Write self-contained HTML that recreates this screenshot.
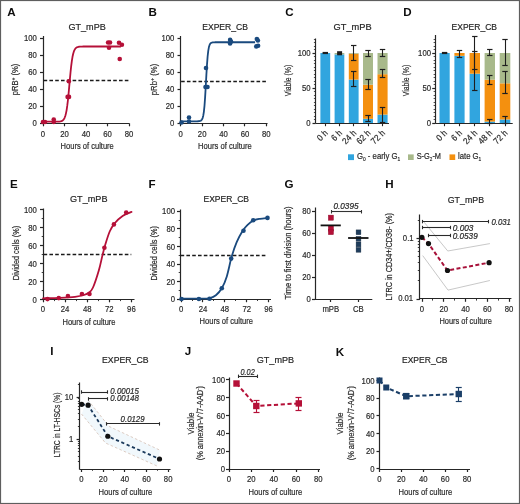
<!DOCTYPE html><html><head><meta charset="utf-8"><style>html,body{margin:0;padding:0;background:#fff;width:520px;height:504px;overflow:hidden}svg{display:block;will-change:transform}text{font-family:"Liberation Sans",sans-serif}</style></head><body><svg width="520" height="504" viewBox="0 0 520 504" font-family="Liberation Sans, sans-serif">
<rect x="0" y="0" width="520" height="504" fill="#fff"/>
<text x="7.20" y="16.30" font-size="11.6" text-anchor="start" font-weight="bold" fill="#0d0d0d">A</text>
<text x="87.10" y="30.40" font-size="9.8" text-anchor="middle" fill="#262626" stroke="#262626" stroke-width="0.2" textLength="37.30" lengthAdjust="spacingAndGlyphs">GT_mPB</text>
<line x1="43.50" y1="36.00" x2="43.50" y2="123.60" stroke="#262626" stroke-width="1.2" stroke-linecap="butt"/>
<line x1="40.00" y1="123.50" x2="43.00" y2="123.50" stroke="#262626" stroke-width="1.2" stroke-linecap="butt"/>
<line x1="40.00" y1="106.50" x2="43.00" y2="106.50" stroke="#262626" stroke-width="1.2" stroke-linecap="butt"/>
<line x1="40.00" y1="89.50" x2="43.00" y2="89.50" stroke="#262626" stroke-width="1.2" stroke-linecap="butt"/>
<line x1="40.00" y1="72.50" x2="43.00" y2="72.50" stroke="#262626" stroke-width="1.2" stroke-linecap="butt"/>
<line x1="40.00" y1="55.50" x2="43.00" y2="55.50" stroke="#262626" stroke-width="1.2" stroke-linecap="butt"/>
<line x1="40.00" y1="38.50" x2="43.00" y2="38.50" stroke="#262626" stroke-width="1.2" stroke-linecap="butt"/>
<text x="36.80" y="126.20" font-size="9.0" text-anchor="end" fill="#2a2a2a" stroke="#2a2a2a" stroke-width="0.2" textLength="4.30" lengthAdjust="spacingAndGlyphs">0</text>
<text x="36.80" y="109.20" font-size="9.0" text-anchor="end" fill="#2a2a2a" stroke="#2a2a2a" stroke-width="0.2" textLength="8.61" lengthAdjust="spacingAndGlyphs">20</text>
<text x="36.80" y="92.20" font-size="9.0" text-anchor="end" fill="#2a2a2a" stroke="#2a2a2a" stroke-width="0.2" textLength="8.61" lengthAdjust="spacingAndGlyphs">40</text>
<text x="36.80" y="75.20" font-size="9.0" text-anchor="end" fill="#2a2a2a" stroke="#2a2a2a" stroke-width="0.2" textLength="8.61" lengthAdjust="spacingAndGlyphs">60</text>
<text x="36.80" y="58.20" font-size="9.0" text-anchor="end" fill="#2a2a2a" stroke="#2a2a2a" stroke-width="0.2" textLength="8.61" lengthAdjust="spacingAndGlyphs">80</text>
<text x="36.80" y="41.20" font-size="9.0" text-anchor="end" fill="#2a2a2a" stroke="#2a2a2a" stroke-width="0.2" textLength="12.91" lengthAdjust="spacingAndGlyphs">100</text>
<line x1="43.00" y1="123.50" x2="129.30" y2="123.50" stroke="#262626" stroke-width="1.2" stroke-linecap="butt"/>
<line x1="43.50" y1="123.30" x2="43.50" y2="126.30" stroke="#262626" stroke-width="1.2" stroke-linecap="butt"/>
<line x1="64.50" y1="123.30" x2="64.50" y2="126.30" stroke="#262626" stroke-width="1.2" stroke-linecap="butt"/>
<line x1="86.50" y1="123.30" x2="86.50" y2="126.30" stroke="#262626" stroke-width="1.2" stroke-linecap="butt"/>
<line x1="107.50" y1="123.30" x2="107.50" y2="126.30" stroke="#262626" stroke-width="1.2" stroke-linecap="butt"/>
<line x1="129.50" y1="123.30" x2="129.50" y2="126.30" stroke="#262626" stroke-width="1.2" stroke-linecap="butt"/>
<text x="43.00" y="136.90" font-size="9.0" text-anchor="middle" fill="#2a2a2a" stroke="#2a2a2a" stroke-width="0.2" textLength="4.30" lengthAdjust="spacingAndGlyphs">0</text>
<text x="64.50" y="136.90" font-size="9.0" text-anchor="middle" fill="#2a2a2a" stroke="#2a2a2a" stroke-width="0.2" textLength="8.61" lengthAdjust="spacingAndGlyphs">20</text>
<text x="86.00" y="136.90" font-size="9.0" text-anchor="middle" fill="#2a2a2a" stroke="#2a2a2a" stroke-width="0.2" textLength="8.61" lengthAdjust="spacingAndGlyphs">40</text>
<text x="107.50" y="136.90" font-size="9.0" text-anchor="middle" fill="#2a2a2a" stroke="#2a2a2a" stroke-width="0.2" textLength="8.61" lengthAdjust="spacingAndGlyphs">60</text>
<text x="129.00" y="136.90" font-size="9.0" text-anchor="middle" fill="#2a2a2a" stroke="#2a2a2a" stroke-width="0.2" textLength="8.61" lengthAdjust="spacingAndGlyphs">80</text>
<text x="87.20" y="149.20" font-size="9.4" text-anchor="middle" fill="#2a2a2a" stroke="#2a2a2a" stroke-width="0.2" textLength="53.20" lengthAdjust="spacingAndGlyphs">Hours of culture</text>
<text x="17.60" y="79.50" font-size="8.8" text-anchor="middle" fill="#2a2a2a" stroke="#2a2a2a" stroke-width="0.2" textLength="31.50" lengthAdjust="spacingAndGlyphs" transform="rotate(-90 17.60 79.50)">pRB<tspan font-size="6" dy="-3">+</tspan><tspan dy="3"> (%)</tspan></text>
<line x1="43.60" y1="80.50" x2="129.00" y2="80.50" stroke="#1a1a1a" stroke-width="1.3" stroke-linecap="butt" stroke-dasharray="3.6,2.2"/>
<polyline points="43.00,121.72 43.65,121.72 44.31,121.72 44.96,121.72 45.62,121.72 46.27,121.72 46.93,121.72 47.58,121.72 48.24,121.72 48.89,121.72 49.55,121.72 50.20,121.72 50.86,121.72 51.51,121.72 52.17,121.72 52.82,121.72 53.48,121.72 54.13,121.72 54.79,121.71 55.44,121.71 56.10,121.70 56.75,121.69 57.41,121.67 58.06,121.64 58.72,121.60 59.37,121.55 60.03,121.46 60.68,121.34 61.34,121.15 61.99,120.88 62.65,120.47 63.30,119.89 63.96,119.03 64.61,117.80 65.27,116.05 65.92,113.62 66.58,110.31 67.23,105.96 67.89,100.51 68.54,94.06 69.20,86.90 69.85,79.54 70.51,72.51 71.16,66.28 71.82,61.10 72.47,57.02 73.13,53.94 73.78,51.69 74.44,50.08 75.09,48.96 75.75,48.18 76.40,47.64 77.06,47.27 77.71,47.02 78.37,46.85 79.02,46.74 79.68,46.66 80.33,46.61 80.99,46.57 81.64,46.55 82.30,46.53 82.95,46.52 83.61,46.52 84.26,46.51 84.92,46.51 85.57,46.50 86.23,46.50 86.88,46.50 87.54,46.50 88.19,46.50 88.85,46.50 89.50,46.50 90.16,46.50 90.81,46.50 91.47,46.50 92.12,46.50 92.78,46.50 93.43,46.50 94.09,46.50 94.74,46.50 95.39,46.50 96.05,46.50 96.70,46.50 97.36,46.50 98.01,46.50 98.67,46.50 99.32,46.50 99.98,46.50 100.63,46.50 101.29,46.50 101.94,46.50 102.60,46.50 103.25,46.50 103.91,46.50 104.56,46.50 105.22,46.50 105.87,46.50 106.53,46.50 107.18,46.50 107.84,46.50 108.49,46.50 109.15,46.50 109.80,46.50 110.46,46.50 111.11,46.50 111.77,46.50 112.42,46.50 113.08,46.50 113.73,46.50 114.39,46.50 115.04,46.50 115.70,46.50 116.35,46.50 117.01,46.50 117.66,46.50 118.32,46.50 118.97,46.50 119.63,46.50 120.28,46.50 120.94,46.50" fill="none" stroke="#b51038" stroke-width="1.8" stroke-linejoin="round"/>
<circle cx="43.00" cy="122.00" r="2.3" fill="#b51038"/>
<circle cx="45.00" cy="122.00" r="2.3" fill="#b51038"/>
<circle cx="53.75" cy="119.50" r="2.3" fill="#b51038"/>
<circle cx="53.75" cy="122.00" r="2.3" fill="#b51038"/>
<circle cx="67.60" cy="96.90" r="2.3" fill="#b51038"/>
<circle cx="69.00" cy="96.90" r="2.3" fill="#b51038"/>
<circle cx="68.80" cy="81.20" r="2.3" fill="#b51038"/>
<circle cx="108.10" cy="42.50" r="2.3" fill="#b51038"/>
<circle cx="110.00" cy="42.50" r="2.3" fill="#b51038"/>
<circle cx="109.00" cy="47.75" r="2.3" fill="#b51038"/>
<circle cx="119.00" cy="42.75" r="2.3" fill="#b51038"/>
<circle cx="121.90" cy="44.75" r="2.3" fill="#b51038"/>
<circle cx="119.75" cy="59.00" r="2.3" fill="#b51038"/>
<text x="148.60" y="16.30" font-size="11.6" text-anchor="start" font-weight="bold" fill="#0d0d0d">B</text>
<text x="225.10" y="30.40" font-size="9.8" text-anchor="middle" fill="#262626" stroke="#262626" stroke-width="0.2" textLength="45.75" lengthAdjust="spacingAndGlyphs">EXPER_CB</text>
<line x1="180.50" y1="36.00" x2="180.50" y2="123.60" stroke="#262626" stroke-width="1.2" stroke-linecap="butt"/>
<line x1="177.50" y1="123.50" x2="180.50" y2="123.50" stroke="#262626" stroke-width="1.2" stroke-linecap="butt"/>
<line x1="177.50" y1="106.50" x2="180.50" y2="106.50" stroke="#262626" stroke-width="1.2" stroke-linecap="butt"/>
<line x1="177.50" y1="89.50" x2="180.50" y2="89.50" stroke="#262626" stroke-width="1.2" stroke-linecap="butt"/>
<line x1="177.50" y1="72.50" x2="180.50" y2="72.50" stroke="#262626" stroke-width="1.2" stroke-linecap="butt"/>
<line x1="177.50" y1="55.50" x2="180.50" y2="55.50" stroke="#262626" stroke-width="1.2" stroke-linecap="butt"/>
<line x1="177.50" y1="38.50" x2="180.50" y2="38.50" stroke="#262626" stroke-width="1.2" stroke-linecap="butt"/>
<text x="174.30" y="126.20" font-size="9.0" text-anchor="end" fill="#2a2a2a" stroke="#2a2a2a" stroke-width="0.2" textLength="4.30" lengthAdjust="spacingAndGlyphs">0</text>
<text x="174.30" y="109.20" font-size="9.0" text-anchor="end" fill="#2a2a2a" stroke="#2a2a2a" stroke-width="0.2" textLength="8.61" lengthAdjust="spacingAndGlyphs">20</text>
<text x="174.30" y="92.20" font-size="9.0" text-anchor="end" fill="#2a2a2a" stroke="#2a2a2a" stroke-width="0.2" textLength="8.61" lengthAdjust="spacingAndGlyphs">40</text>
<text x="174.30" y="75.20" font-size="9.0" text-anchor="end" fill="#2a2a2a" stroke="#2a2a2a" stroke-width="0.2" textLength="8.61" lengthAdjust="spacingAndGlyphs">60</text>
<text x="174.30" y="58.20" font-size="9.0" text-anchor="end" fill="#2a2a2a" stroke="#2a2a2a" stroke-width="0.2" textLength="8.61" lengthAdjust="spacingAndGlyphs">80</text>
<text x="174.30" y="41.20" font-size="9.0" text-anchor="end" fill="#2a2a2a" stroke="#2a2a2a" stroke-width="0.2" textLength="12.91" lengthAdjust="spacingAndGlyphs">100</text>
<line x1="180.50" y1="123.50" x2="267.50" y2="123.50" stroke="#262626" stroke-width="1.2" stroke-linecap="butt"/>
<line x1="180.50" y1="123.30" x2="180.50" y2="126.30" stroke="#262626" stroke-width="1.2" stroke-linecap="butt"/>
<line x1="202.50" y1="123.30" x2="202.50" y2="126.30" stroke="#262626" stroke-width="1.2" stroke-linecap="butt"/>
<line x1="223.50" y1="123.30" x2="223.50" y2="126.30" stroke="#262626" stroke-width="1.2" stroke-linecap="butt"/>
<line x1="244.50" y1="123.30" x2="244.50" y2="126.30" stroke="#262626" stroke-width="1.2" stroke-linecap="butt"/>
<line x1="266.50" y1="123.30" x2="266.50" y2="126.30" stroke="#262626" stroke-width="1.2" stroke-linecap="butt"/>
<text x="180.75" y="136.90" font-size="9.0" text-anchor="middle" fill="#2a2a2a" stroke="#2a2a2a" stroke-width="0.2" textLength="4.30" lengthAdjust="spacingAndGlyphs">0</text>
<text x="202.15" y="136.90" font-size="9.0" text-anchor="middle" fill="#2a2a2a" stroke="#2a2a2a" stroke-width="0.2" textLength="8.61" lengthAdjust="spacingAndGlyphs">20</text>
<text x="223.55" y="136.90" font-size="9.0" text-anchor="middle" fill="#2a2a2a" stroke="#2a2a2a" stroke-width="0.2" textLength="8.61" lengthAdjust="spacingAndGlyphs">40</text>
<text x="244.95" y="136.90" font-size="9.0" text-anchor="middle" fill="#2a2a2a" stroke="#2a2a2a" stroke-width="0.2" textLength="8.61" lengthAdjust="spacingAndGlyphs">60</text>
<text x="266.35" y="136.90" font-size="9.0" text-anchor="middle" fill="#2a2a2a" stroke="#2a2a2a" stroke-width="0.2" textLength="8.61" lengthAdjust="spacingAndGlyphs">80</text>
<text x="224.90" y="149.20" font-size="9.4" text-anchor="middle" fill="#2a2a2a" stroke="#2a2a2a" stroke-width="0.2" textLength="53.70" lengthAdjust="spacingAndGlyphs">Hours of culture</text>
<text x="156.80" y="79.50" font-size="8.8" text-anchor="middle" fill="#2a2a2a" stroke="#2a2a2a" stroke-width="0.2" textLength="31.50" lengthAdjust="spacingAndGlyphs" transform="rotate(-90 156.80 79.50)">pRb<tspan font-size="6" dy="-3">+</tspan><tspan dy="3"> (%)</tspan></text>
<line x1="181.10" y1="81.50" x2="266.00" y2="81.50" stroke="#1a1a1a" stroke-width="1.3" stroke-linecap="butt" stroke-dasharray="3.6,2.2"/>
<polyline points="180.75,121.30 181.37,121.30 182.00,121.30 182.62,121.30 183.25,121.30 183.87,121.30 184.50,121.30 185.12,121.30 185.75,121.30 186.37,121.30 187.00,121.30 187.62,121.30 188.25,121.30 188.87,121.30 189.50,121.30 190.12,121.30 190.75,121.30 191.37,121.30 192.00,121.30 192.62,121.30 193.25,121.30 193.87,121.30 194.50,121.30 195.12,121.30 195.75,121.29 196.37,121.29 197.00,121.28 197.62,121.27 198.25,121.24 198.87,121.20 199.50,121.12 200.12,120.98 200.75,120.72 201.37,120.27 202.00,119.47 202.62,118.08 203.25,115.70 203.87,111.80 204.50,105.75 205.12,97.17 205.75,86.47 206.37,75.02 207.00,64.62 207.62,56.51 208.25,50.89 208.87,47.31 209.50,45.16 210.12,43.90 210.75,43.18 211.37,42.77 212.00,42.54 212.62,42.41 213.25,42.34 213.87,42.30 214.50,42.28 215.12,42.27 215.75,42.26 216.37,42.25 217.00,42.25 217.62,42.25 218.24,42.25 218.87,42.25 219.49,42.25 220.12,42.25 220.74,42.25 221.37,42.25 221.99,42.25 222.62,42.25 223.24,42.25 223.87,42.25 224.49,42.25 225.12,42.25 225.74,42.25 226.37,42.25 226.99,42.25 227.62,42.25 228.24,42.25 228.87,42.25 229.49,42.25 230.12,42.25 230.74,42.25 231.37,42.25 231.99,42.25 232.62,42.25 233.24,42.25 233.87,42.25 234.49,42.25 235.12,42.25 235.74,42.25 236.37,42.25 236.99,42.25 237.62,42.25 238.24,42.25 238.87,42.25 239.49,42.25 240.12,42.25 240.74,42.25 241.37,42.25 241.99,42.25 242.62,42.25 243.24,42.25 243.87,42.25 244.49,42.25 245.12,42.25 245.74,42.25 246.37,42.25 246.99,42.25 247.62,42.25 248.24,42.25 248.87,42.25 249.49,42.25 250.12,42.25 250.74,42.25 251.37,42.25 251.99,42.25 252.62,42.25 253.24,42.25 253.87,42.25 254.49,42.25 255.12,42.25" fill="none" stroke="#1a4a7e" stroke-width="1.8" stroke-linejoin="round"/>
<circle cx="181.50" cy="122.50" r="2.3" fill="#1a4a7e"/>
<circle cx="189.00" cy="117.50" r="2.3" fill="#1a4a7e"/>
<circle cx="189.00" cy="121.50" r="2.3" fill="#1a4a7e"/>
<circle cx="206.00" cy="68.00" r="2.3" fill="#1a4a7e"/>
<circle cx="205.50" cy="87.00" r="2.3" fill="#1a4a7e"/>
<circle cx="207.50" cy="87.00" r="2.3" fill="#1a4a7e"/>
<circle cx="230.10" cy="39.90" r="2.3" fill="#1a4a7e"/>
<circle cx="230.10" cy="43.50" r="2.3" fill="#1a4a7e"/>
<circle cx="231.00" cy="41.50" r="2.3" fill="#1a4a7e"/>
<circle cx="256.90" cy="39.00" r="2.3" fill="#1a4a7e"/>
<circle cx="257.90" cy="40.50" r="2.3" fill="#1a4a7e"/>
<circle cx="256.30" cy="46.40" r="2.3" fill="#1a4a7e"/>
<circle cx="258.10" cy="45.80" r="2.3" fill="#1a4a7e"/>
<text x="285.20" y="16.30" font-size="11.6" text-anchor="start" font-weight="bold" fill="#0d0d0d">C</text>
<text x="352.60" y="30.40" font-size="9.8" text-anchor="middle" fill="#262626" stroke="#262626" stroke-width="0.2" textLength="38.00" lengthAdjust="spacingAndGlyphs">GT_mPB</text>
<rect x="320.40" y="53.00" width="9.80" height="70.00" fill="#31a5df"/>
<rect x="334.60" y="54.40" width="9.70" height="68.60" fill="#31a5df"/>
<rect x="334.60" y="53.00" width="9.70" height="1.40" fill="#a8b98b"/>
<rect x="348.80" y="79.60" width="9.80" height="43.40" fill="#31a5df"/>
<rect x="348.80" y="53.70" width="9.80" height="25.90" fill="#f4900f"/>
<rect x="348.80" y="53.00" width="9.80" height="0.70" fill="#a8b98b"/>
<rect x="363.00" y="118.80" width="10.00" height="4.20" fill="#31a5df"/>
<rect x="363.00" y="84.71" width="10.00" height="34.09" fill="#f4900f"/>
<rect x="363.00" y="53.00" width="10.00" height="31.71" fill="#a8b98b"/>
<rect x="377.50" y="114.60" width="10.10" height="8.40" fill="#31a5df"/>
<rect x="377.50" y="74.21" width="10.10" height="40.39" fill="#f4900f"/>
<rect x="377.50" y="53.00" width="10.10" height="21.21" fill="#a8b98b"/>
<line x1="325.50" y1="52.60" x2="325.50" y2="53.60" stroke="#1e1e1e" stroke-width="1.1" stroke-linecap="butt"/>
<line x1="322.60" y1="52.50" x2="328.00" y2="52.50" stroke="#1e1e1e" stroke-width="1.2" stroke-linecap="butt"/>
<line x1="322.60" y1="53.50" x2="328.00" y2="53.50" stroke="#1e1e1e" stroke-width="1.2" stroke-linecap="butt"/>
<line x1="353.50" y1="45.30" x2="353.50" y2="60.80" stroke="#1e1e1e" stroke-width="1.1" stroke-linecap="butt"/>
<line x1="351.00" y1="45.50" x2="356.40" y2="45.50" stroke="#1e1e1e" stroke-width="1.2" stroke-linecap="butt"/>
<line x1="351.00" y1="60.50" x2="356.40" y2="60.50" stroke="#1e1e1e" stroke-width="1.2" stroke-linecap="butt"/>
<line x1="353.50" y1="71.30" x2="353.50" y2="86.30" stroke="#1e1e1e" stroke-width="1.1" stroke-linecap="butt"/>
<line x1="351.00" y1="71.50" x2="356.40" y2="71.50" stroke="#1e1e1e" stroke-width="1.2" stroke-linecap="butt"/>
<line x1="351.00" y1="86.50" x2="356.40" y2="86.50" stroke="#1e1e1e" stroke-width="1.2" stroke-linecap="butt"/>
<line x1="368.50" y1="50.00" x2="368.50" y2="56.30" stroke="#1e1e1e" stroke-width="1.1" stroke-linecap="butt"/>
<line x1="365.30" y1="50.50" x2="370.70" y2="50.50" stroke="#1e1e1e" stroke-width="1.2" stroke-linecap="butt"/>
<line x1="365.30" y1="56.50" x2="370.70" y2="56.50" stroke="#1e1e1e" stroke-width="1.2" stroke-linecap="butt"/>
<line x1="368.50" y1="79.50" x2="368.50" y2="89.80" stroke="#1e1e1e" stroke-width="1.1" stroke-linecap="butt"/>
<line x1="365.30" y1="79.50" x2="370.70" y2="79.50" stroke="#1e1e1e" stroke-width="1.2" stroke-linecap="butt"/>
<line x1="365.30" y1="89.50" x2="370.70" y2="89.50" stroke="#1e1e1e" stroke-width="1.2" stroke-linecap="butt"/>
<line x1="368.50" y1="115.80" x2="368.50" y2="121.50" stroke="#1e1e1e" stroke-width="1.1" stroke-linecap="butt"/>
<line x1="365.30" y1="115.50" x2="370.70" y2="115.50" stroke="#1e1e1e" stroke-width="1.2" stroke-linecap="butt"/>
<line x1="365.30" y1="121.50" x2="370.70" y2="121.50" stroke="#1e1e1e" stroke-width="1.2" stroke-linecap="butt"/>
<line x1="382.50" y1="49.20" x2="382.50" y2="56.70" stroke="#1e1e1e" stroke-width="1.1" stroke-linecap="butt"/>
<line x1="379.85" y1="49.50" x2="385.25" y2="49.50" stroke="#1e1e1e" stroke-width="1.2" stroke-linecap="butt"/>
<line x1="379.85" y1="56.50" x2="385.25" y2="56.50" stroke="#1e1e1e" stroke-width="1.2" stroke-linecap="butt"/>
<line x1="382.50" y1="69.40" x2="382.50" y2="77.20" stroke="#1e1e1e" stroke-width="1.1" stroke-linecap="butt"/>
<line x1="379.85" y1="69.50" x2="385.25" y2="69.50" stroke="#1e1e1e" stroke-width="1.2" stroke-linecap="butt"/>
<line x1="379.85" y1="77.50" x2="385.25" y2="77.50" stroke="#1e1e1e" stroke-width="1.2" stroke-linecap="butt"/>
<line x1="382.50" y1="107.40" x2="382.50" y2="122.70" stroke="#1e1e1e" stroke-width="1.1" stroke-linecap="butt"/>
<line x1="379.85" y1="107.50" x2="385.25" y2="107.50" stroke="#1e1e1e" stroke-width="1.2" stroke-linecap="butt"/>
<line x1="379.85" y1="122.50" x2="385.25" y2="122.50" stroke="#1e1e1e" stroke-width="1.2" stroke-linecap="butt"/>
<line x1="315.50" y1="123.50" x2="315.50" y2="38.50" stroke="#262626" stroke-width="1.2" stroke-linecap="butt"/>
<line x1="312.50" y1="123.50" x2="315.50" y2="123.50" stroke="#262626" stroke-width="1.2" stroke-linecap="butt"/>
<line x1="312.50" y1="88.50" x2="315.50" y2="88.50" stroke="#262626" stroke-width="1.2" stroke-linecap="butt"/>
<line x1="312.50" y1="53.50" x2="315.50" y2="53.50" stroke="#262626" stroke-width="1.2" stroke-linecap="butt"/>
<line x1="313.90" y1="119.50" x2="315.50" y2="119.50" stroke="#262626" stroke-width="0.8" stroke-linecap="butt"/>
<line x1="313.90" y1="116.50" x2="315.50" y2="116.50" stroke="#262626" stroke-width="0.8" stroke-linecap="butt"/>
<line x1="313.90" y1="112.50" x2="315.50" y2="112.50" stroke="#262626" stroke-width="0.8" stroke-linecap="butt"/>
<line x1="313.90" y1="109.50" x2="315.50" y2="109.50" stroke="#262626" stroke-width="0.8" stroke-linecap="butt"/>
<line x1="313.90" y1="105.50" x2="315.50" y2="105.50" stroke="#262626" stroke-width="0.8" stroke-linecap="butt"/>
<line x1="313.90" y1="102.50" x2="315.50" y2="102.50" stroke="#262626" stroke-width="0.8" stroke-linecap="butt"/>
<line x1="313.90" y1="98.50" x2="315.50" y2="98.50" stroke="#262626" stroke-width="0.8" stroke-linecap="butt"/>
<line x1="313.90" y1="95.50" x2="315.50" y2="95.50" stroke="#262626" stroke-width="0.8" stroke-linecap="butt"/>
<line x1="313.90" y1="91.50" x2="315.50" y2="91.50" stroke="#262626" stroke-width="0.8" stroke-linecap="butt"/>
<line x1="313.90" y1="84.50" x2="315.50" y2="84.50" stroke="#262626" stroke-width="0.8" stroke-linecap="butt"/>
<line x1="313.90" y1="81.50" x2="315.50" y2="81.50" stroke="#262626" stroke-width="0.8" stroke-linecap="butt"/>
<line x1="313.90" y1="77.50" x2="315.50" y2="77.50" stroke="#262626" stroke-width="0.8" stroke-linecap="butt"/>
<line x1="313.90" y1="74.50" x2="315.50" y2="74.50" stroke="#262626" stroke-width="0.8" stroke-linecap="butt"/>
<line x1="313.90" y1="70.50" x2="315.50" y2="70.50" stroke="#262626" stroke-width="0.8" stroke-linecap="butt"/>
<line x1="313.90" y1="67.50" x2="315.50" y2="67.50" stroke="#262626" stroke-width="0.8" stroke-linecap="butt"/>
<line x1="313.90" y1="63.50" x2="315.50" y2="63.50" stroke="#262626" stroke-width="0.8" stroke-linecap="butt"/>
<line x1="313.90" y1="60.50" x2="315.50" y2="60.50" stroke="#262626" stroke-width="0.8" stroke-linecap="butt"/>
<line x1="313.90" y1="56.50" x2="315.50" y2="56.50" stroke="#262626" stroke-width="0.8" stroke-linecap="butt"/>
<line x1="313.90" y1="49.50" x2="315.50" y2="49.50" stroke="#262626" stroke-width="0.8" stroke-linecap="butt"/>
<line x1="313.90" y1="46.50" x2="315.50" y2="46.50" stroke="#262626" stroke-width="0.8" stroke-linecap="butt"/>
<line x1="313.90" y1="42.50" x2="315.50" y2="42.50" stroke="#262626" stroke-width="0.8" stroke-linecap="butt"/>
<line x1="313.90" y1="39.50" x2="315.50" y2="39.50" stroke="#262626" stroke-width="0.8" stroke-linecap="butt"/>
<text x="310.60" y="126.20" font-size="9.0" text-anchor="end" fill="#2a2a2a" stroke="#2a2a2a" stroke-width="0.2" textLength="4.30" lengthAdjust="spacingAndGlyphs">0</text>
<text x="310.60" y="91.20" font-size="9.0" text-anchor="end" fill="#2a2a2a" stroke="#2a2a2a" stroke-width="0.2" textLength="8.61" lengthAdjust="spacingAndGlyphs">50</text>
<text x="310.60" y="56.20" font-size="9.0" text-anchor="end" fill="#2a2a2a" stroke="#2a2a2a" stroke-width="0.2" textLength="12.91" lengthAdjust="spacingAndGlyphs">100</text>
<line x1="315.50" y1="123.50" x2="389.00" y2="123.50" stroke="#262626" stroke-width="1.2" stroke-linecap="butt"/>
<line x1="325.50" y1="123.40" x2="325.50" y2="126.20" stroke="#262626" stroke-width="1.1" stroke-linecap="butt"/>
<text x="328.50" y="133.60" font-size="9" text-anchor="end" fill="#2a2a2a" stroke="#2a2a2a" stroke-width="0.2" textLength="11.26" lengthAdjust="spacingAndGlyphs" transform="rotate(-45 328.50 133.60)">0 h</text>
<line x1="339.50" y1="123.40" x2="339.50" y2="126.20" stroke="#262626" stroke-width="1.1" stroke-linecap="butt"/>
<text x="342.65" y="133.60" font-size="9" text-anchor="end" fill="#2a2a2a" stroke="#2a2a2a" stroke-width="0.2" textLength="11.26" lengthAdjust="spacingAndGlyphs" transform="rotate(-45 342.65 133.60)">6 h</text>
<line x1="353.50" y1="123.40" x2="353.50" y2="126.20" stroke="#262626" stroke-width="1.1" stroke-linecap="butt"/>
<text x="356.90" y="133.60" font-size="9" text-anchor="end" fill="#2a2a2a" stroke="#2a2a2a" stroke-width="0.2" textLength="15.77" lengthAdjust="spacingAndGlyphs" transform="rotate(-45 356.90 133.60)">24 h</text>
<line x1="368.50" y1="123.40" x2="368.50" y2="126.20" stroke="#262626" stroke-width="1.1" stroke-linecap="butt"/>
<text x="371.20" y="133.60" font-size="9" text-anchor="end" fill="#2a2a2a" stroke="#2a2a2a" stroke-width="0.2" textLength="15.77" lengthAdjust="spacingAndGlyphs" transform="rotate(-45 371.20 133.60)">62 h</text>
<line x1="382.50" y1="123.40" x2="382.50" y2="126.20" stroke="#262626" stroke-width="1.1" stroke-linecap="butt"/>
<text x="385.75" y="133.60" font-size="9" text-anchor="end" fill="#2a2a2a" stroke="#2a2a2a" stroke-width="0.2" textLength="15.77" lengthAdjust="spacingAndGlyphs" transform="rotate(-45 385.75 133.60)">72 h</text>
<text x="290.80" y="80.50" font-size="8.8" text-anchor="middle" fill="#2a2a2a" stroke="#2a2a2a" stroke-width="0.2" textLength="31.50" lengthAdjust="spacingAndGlyphs" transform="rotate(-90 290.80 80.50)">Viable (%)</text>
<rect x="337.10" y="51.20" width="5.00" height="4.10" fill="#1e1e1e"/>
<text x="403.20" y="16.30" font-size="11.6" text-anchor="start" font-weight="bold" fill="#0d0d0d">D</text>
<text x="474.30" y="30.40" font-size="9.8" text-anchor="middle" fill="#262626" stroke="#262626" stroke-width="0.2" textLength="45.50" lengthAdjust="spacingAndGlyphs">EXPER_CB</text>
<rect x="439.50" y="53.00" width="10.20" height="70.00" fill="#31a5df"/>
<rect x="454.40" y="55.80" width="10.20" height="67.20" fill="#31a5df"/>
<rect x="454.40" y="53.00" width="10.20" height="2.80" fill="#f4900f"/>
<rect x="469.60" y="73.72" width="10.40" height="49.28" fill="#31a5df"/>
<rect x="469.60" y="53.00" width="10.40" height="20.72" fill="#f4900f"/>
<rect x="484.60" y="121.60" width="10.40" height="1.40" fill="#31a5df"/>
<rect x="484.60" y="79.67" width="10.40" height="41.93" fill="#f4900f"/>
<rect x="484.60" y="53.00" width="10.40" height="26.67" fill="#a8b98b"/>
<rect x="499.70" y="119.50" width="10.60" height="3.50" fill="#31a5df"/>
<rect x="499.70" y="83.31" width="10.60" height="36.19" fill="#f4900f"/>
<rect x="499.70" y="53.00" width="10.60" height="30.31" fill="#a8b98b"/>
<line x1="444.50" y1="52.30" x2="444.50" y2="53.30" stroke="#1e1e1e" stroke-width="1.1" stroke-linecap="butt"/>
<line x1="441.90" y1="52.50" x2="447.30" y2="52.50" stroke="#1e1e1e" stroke-width="1.2" stroke-linecap="butt"/>
<line x1="441.90" y1="53.50" x2="447.30" y2="53.50" stroke="#1e1e1e" stroke-width="1.2" stroke-linecap="butt"/>
<line x1="459.50" y1="50.30" x2="459.50" y2="57.00" stroke="#1e1e1e" stroke-width="1.1" stroke-linecap="butt"/>
<line x1="456.80" y1="50.50" x2="462.20" y2="50.50" stroke="#1e1e1e" stroke-width="1.2" stroke-linecap="butt"/>
<line x1="456.80" y1="57.50" x2="462.20" y2="57.50" stroke="#1e1e1e" stroke-width="1.2" stroke-linecap="butt"/>
<line x1="474.50" y1="36.70" x2="474.50" y2="69.70" stroke="#1e1e1e" stroke-width="1.1" stroke-linecap="butt"/>
<line x1="472.10" y1="36.50" x2="477.50" y2="36.50" stroke="#1e1e1e" stroke-width="1.2" stroke-linecap="butt"/>
<line x1="472.10" y1="69.50" x2="477.50" y2="69.50" stroke="#1e1e1e" stroke-width="1.2" stroke-linecap="butt"/>
<line x1="474.50" y1="51.70" x2="474.50" y2="90.30" stroke="#1e1e1e" stroke-width="1.1" stroke-linecap="butt"/>
<line x1="472.10" y1="51.50" x2="477.50" y2="51.50" stroke="#1e1e1e" stroke-width="1.2" stroke-linecap="butt"/>
<line x1="472.10" y1="90.50" x2="477.50" y2="90.50" stroke="#1e1e1e" stroke-width="1.2" stroke-linecap="butt"/>
<line x1="489.50" y1="49.70" x2="489.50" y2="55.00" stroke="#1e1e1e" stroke-width="1.1" stroke-linecap="butt"/>
<line x1="487.10" y1="49.50" x2="492.50" y2="49.50" stroke="#1e1e1e" stroke-width="1.2" stroke-linecap="butt"/>
<line x1="487.10" y1="55.50" x2="492.50" y2="55.50" stroke="#1e1e1e" stroke-width="1.2" stroke-linecap="butt"/>
<line x1="489.50" y1="75.30" x2="489.50" y2="84.20" stroke="#1e1e1e" stroke-width="1.1" stroke-linecap="butt"/>
<line x1="487.10" y1="75.50" x2="492.50" y2="75.50" stroke="#1e1e1e" stroke-width="1.2" stroke-linecap="butt"/>
<line x1="487.10" y1="84.50" x2="492.50" y2="84.50" stroke="#1e1e1e" stroke-width="1.2" stroke-linecap="butt"/>
<line x1="489.50" y1="119.60" x2="489.50" y2="123.00" stroke="#1e1e1e" stroke-width="1.1" stroke-linecap="butt"/>
<line x1="487.10" y1="119.50" x2="492.50" y2="119.50" stroke="#1e1e1e" stroke-width="1.2" stroke-linecap="butt"/>
<line x1="487.10" y1="123.50" x2="492.50" y2="123.50" stroke="#1e1e1e" stroke-width="1.2" stroke-linecap="butt"/>
<line x1="505.50" y1="39.70" x2="505.50" y2="65.30" stroke="#1e1e1e" stroke-width="1.1" stroke-linecap="butt"/>
<line x1="502.30" y1="39.50" x2="507.70" y2="39.50" stroke="#1e1e1e" stroke-width="1.2" stroke-linecap="butt"/>
<line x1="502.30" y1="65.50" x2="507.70" y2="65.50" stroke="#1e1e1e" stroke-width="1.2" stroke-linecap="butt"/>
<line x1="505.50" y1="71.70" x2="505.50" y2="93.30" stroke="#1e1e1e" stroke-width="1.1" stroke-linecap="butt"/>
<line x1="502.30" y1="71.50" x2="507.70" y2="71.50" stroke="#1e1e1e" stroke-width="1.2" stroke-linecap="butt"/>
<line x1="502.30" y1="93.50" x2="507.70" y2="93.50" stroke="#1e1e1e" stroke-width="1.2" stroke-linecap="butt"/>
<line x1="505.50" y1="116.20" x2="505.50" y2="123.00" stroke="#1e1e1e" stroke-width="1.1" stroke-linecap="butt"/>
<line x1="502.30" y1="116.50" x2="507.70" y2="116.50" stroke="#1e1e1e" stroke-width="1.2" stroke-linecap="butt"/>
<line x1="502.30" y1="123.50" x2="507.70" y2="123.50" stroke="#1e1e1e" stroke-width="1.2" stroke-linecap="butt"/>
<line x1="435.50" y1="123.50" x2="435.50" y2="35.00" stroke="#262626" stroke-width="1.2" stroke-linecap="butt"/>
<line x1="432.20" y1="123.50" x2="435.20" y2="123.50" stroke="#262626" stroke-width="1.2" stroke-linecap="butt"/>
<line x1="432.20" y1="88.50" x2="435.20" y2="88.50" stroke="#262626" stroke-width="1.2" stroke-linecap="butt"/>
<line x1="432.20" y1="53.50" x2="435.20" y2="53.50" stroke="#262626" stroke-width="1.2" stroke-linecap="butt"/>
<line x1="433.60" y1="119.50" x2="435.20" y2="119.50" stroke="#262626" stroke-width="0.8" stroke-linecap="butt"/>
<line x1="433.60" y1="116.50" x2="435.20" y2="116.50" stroke="#262626" stroke-width="0.8" stroke-linecap="butt"/>
<line x1="433.60" y1="112.50" x2="435.20" y2="112.50" stroke="#262626" stroke-width="0.8" stroke-linecap="butt"/>
<line x1="433.60" y1="109.50" x2="435.20" y2="109.50" stroke="#262626" stroke-width="0.8" stroke-linecap="butt"/>
<line x1="433.60" y1="105.50" x2="435.20" y2="105.50" stroke="#262626" stroke-width="0.8" stroke-linecap="butt"/>
<line x1="433.60" y1="102.50" x2="435.20" y2="102.50" stroke="#262626" stroke-width="0.8" stroke-linecap="butt"/>
<line x1="433.60" y1="98.50" x2="435.20" y2="98.50" stroke="#262626" stroke-width="0.8" stroke-linecap="butt"/>
<line x1="433.60" y1="95.50" x2="435.20" y2="95.50" stroke="#262626" stroke-width="0.8" stroke-linecap="butt"/>
<line x1="433.60" y1="91.50" x2="435.20" y2="91.50" stroke="#262626" stroke-width="0.8" stroke-linecap="butt"/>
<line x1="433.60" y1="84.50" x2="435.20" y2="84.50" stroke="#262626" stroke-width="0.8" stroke-linecap="butt"/>
<line x1="433.60" y1="81.50" x2="435.20" y2="81.50" stroke="#262626" stroke-width="0.8" stroke-linecap="butt"/>
<line x1="433.60" y1="77.50" x2="435.20" y2="77.50" stroke="#262626" stroke-width="0.8" stroke-linecap="butt"/>
<line x1="433.60" y1="74.50" x2="435.20" y2="74.50" stroke="#262626" stroke-width="0.8" stroke-linecap="butt"/>
<line x1="433.60" y1="70.50" x2="435.20" y2="70.50" stroke="#262626" stroke-width="0.8" stroke-linecap="butt"/>
<line x1="433.60" y1="67.50" x2="435.20" y2="67.50" stroke="#262626" stroke-width="0.8" stroke-linecap="butt"/>
<line x1="433.60" y1="63.50" x2="435.20" y2="63.50" stroke="#262626" stroke-width="0.8" stroke-linecap="butt"/>
<line x1="433.60" y1="60.50" x2="435.20" y2="60.50" stroke="#262626" stroke-width="0.8" stroke-linecap="butt"/>
<line x1="433.60" y1="56.50" x2="435.20" y2="56.50" stroke="#262626" stroke-width="0.8" stroke-linecap="butt"/>
<line x1="433.60" y1="49.50" x2="435.20" y2="49.50" stroke="#262626" stroke-width="0.8" stroke-linecap="butt"/>
<line x1="433.60" y1="46.50" x2="435.20" y2="46.50" stroke="#262626" stroke-width="0.8" stroke-linecap="butt"/>
<line x1="433.60" y1="42.50" x2="435.20" y2="42.50" stroke="#262626" stroke-width="0.8" stroke-linecap="butt"/>
<line x1="433.60" y1="39.50" x2="435.20" y2="39.50" stroke="#262626" stroke-width="0.8" stroke-linecap="butt"/>
<text x="431.00" y="126.20" font-size="9.0" text-anchor="end" fill="#2a2a2a" stroke="#2a2a2a" stroke-width="0.2" textLength="4.30" lengthAdjust="spacingAndGlyphs">0</text>
<text x="431.00" y="91.20" font-size="9.0" text-anchor="end" fill="#2a2a2a" stroke="#2a2a2a" stroke-width="0.2" textLength="8.61" lengthAdjust="spacingAndGlyphs">50</text>
<text x="431.00" y="56.20" font-size="9.0" text-anchor="end" fill="#2a2a2a" stroke="#2a2a2a" stroke-width="0.2" textLength="12.91" lengthAdjust="spacingAndGlyphs">100</text>
<line x1="435.20" y1="123.50" x2="512.70" y2="123.50" stroke="#262626" stroke-width="1.2" stroke-linecap="butt"/>
<line x1="444.50" y1="123.40" x2="444.50" y2="126.20" stroke="#262626" stroke-width="1.1" stroke-linecap="butt"/>
<text x="447.80" y="133.60" font-size="9" text-anchor="end" fill="#2a2a2a" stroke="#2a2a2a" stroke-width="0.2" textLength="11.26" lengthAdjust="spacingAndGlyphs" transform="rotate(-45 447.80 133.60)">0 h</text>
<line x1="459.50" y1="123.40" x2="459.50" y2="126.20" stroke="#262626" stroke-width="1.1" stroke-linecap="butt"/>
<text x="462.70" y="133.60" font-size="9" text-anchor="end" fill="#2a2a2a" stroke="#2a2a2a" stroke-width="0.2" textLength="11.26" lengthAdjust="spacingAndGlyphs" transform="rotate(-45 462.70 133.60)">6 h</text>
<line x1="474.50" y1="123.40" x2="474.50" y2="126.20" stroke="#262626" stroke-width="1.1" stroke-linecap="butt"/>
<text x="478.00" y="133.60" font-size="9" text-anchor="end" fill="#2a2a2a" stroke="#2a2a2a" stroke-width="0.2" textLength="15.77" lengthAdjust="spacingAndGlyphs" transform="rotate(-45 478.00 133.60)">24 h</text>
<line x1="489.50" y1="123.40" x2="489.50" y2="126.20" stroke="#262626" stroke-width="1.1" stroke-linecap="butt"/>
<text x="493.00" y="133.60" font-size="9" text-anchor="end" fill="#2a2a2a" stroke="#2a2a2a" stroke-width="0.2" textLength="15.77" lengthAdjust="spacingAndGlyphs" transform="rotate(-45 493.00 133.60)">48 h</text>
<line x1="505.50" y1="123.40" x2="505.50" y2="126.20" stroke="#262626" stroke-width="1.1" stroke-linecap="butt"/>
<text x="508.20" y="133.60" font-size="9" text-anchor="end" fill="#2a2a2a" stroke="#2a2a2a" stroke-width="0.2" textLength="15.77" lengthAdjust="spacingAndGlyphs" transform="rotate(-45 508.20 133.60)">72 h</text>
<text x="409.20" y="80.50" font-size="8.8" text-anchor="middle" fill="#2a2a2a" stroke="#2a2a2a" stroke-width="0.2" textLength="31.50" lengthAdjust="spacingAndGlyphs" transform="rotate(-90 409.20 80.50)">Viable (%)</text>
<rect x="348.00" y="154.30" width="6.00" height="5.80" fill="#31a5df"/>
<text x="357.00" y="159.00" font-size="8.8" text-anchor="start" fill="#2a2a2a" stroke="#2a2a2a" stroke-width="0.2" textLength="43.20" lengthAdjust="spacingAndGlyphs">G<tspan font-size="5.5" dy="1.5">0</tspan><tspan dy="-1.5"> - early G</tspan><tspan font-size="5.5" dy="1.5">1</tspan></text>
<rect x="408.00" y="154.40" width="5.70" height="5.60" fill="#a8b98b"/>
<text x="416.70" y="159.00" font-size="8.8" text-anchor="start" fill="#2a2a2a" stroke="#2a2a2a" stroke-width="0.2" textLength="24.30" lengthAdjust="spacingAndGlyphs">S-G<tspan font-size="5.5" dy="1.5">2</tspan><tspan dy="-1.5">-M</tspan></text>
<rect x="449.50" y="154.40" width="5.70" height="5.60" fill="#f4900f"/>
<text x="458.00" y="159.00" font-size="8.8" text-anchor="start" fill="#2a2a2a" stroke="#2a2a2a" stroke-width="0.2" textLength="23.30" lengthAdjust="spacingAndGlyphs">late G<tspan font-size="5.5" dy="1.5">1</tspan></text>
<text x="10.00" y="188.10" font-size="11.6" text-anchor="start" font-weight="bold" fill="#0d0d0d">E</text>
<text x="88.75" y="202.00" font-size="9.8" text-anchor="middle" fill="#262626" stroke="#262626" stroke-width="0.2" textLength="37.50" lengthAdjust="spacingAndGlyphs">GT_mPB</text>
<line x1="43.50" y1="208.50" x2="43.50" y2="299.90" stroke="#262626" stroke-width="1.2" stroke-linecap="butt"/>
<line x1="40.00" y1="299.50" x2="43.00" y2="299.50" stroke="#262626" stroke-width="1.2" stroke-linecap="butt"/>
<line x1="40.00" y1="281.50" x2="43.00" y2="281.50" stroke="#262626" stroke-width="1.2" stroke-linecap="butt"/>
<line x1="40.00" y1="263.50" x2="43.00" y2="263.50" stroke="#262626" stroke-width="1.2" stroke-linecap="butt"/>
<line x1="40.00" y1="245.50" x2="43.00" y2="245.50" stroke="#262626" stroke-width="1.2" stroke-linecap="butt"/>
<line x1="40.00" y1="227.50" x2="43.00" y2="227.50" stroke="#262626" stroke-width="1.2" stroke-linecap="butt"/>
<line x1="40.00" y1="209.50" x2="43.00" y2="209.50" stroke="#262626" stroke-width="1.2" stroke-linecap="butt"/>
<line x1="41.70" y1="290.50" x2="43.00" y2="290.50" stroke="#262626" stroke-width="0.9" stroke-linecap="butt"/>
<line x1="41.70" y1="272.50" x2="43.00" y2="272.50" stroke="#262626" stroke-width="0.9" stroke-linecap="butt"/>
<line x1="41.70" y1="254.50" x2="43.00" y2="254.50" stroke="#262626" stroke-width="0.9" stroke-linecap="butt"/>
<line x1="41.70" y1="236.50" x2="43.00" y2="236.50" stroke="#262626" stroke-width="0.9" stroke-linecap="butt"/>
<line x1="41.70" y1="218.50" x2="43.00" y2="218.50" stroke="#262626" stroke-width="0.9" stroke-linecap="butt"/>
<text x="36.80" y="302.60" font-size="9.0" text-anchor="end" fill="#2a2a2a" stroke="#2a2a2a" stroke-width="0.2" textLength="4.30" lengthAdjust="spacingAndGlyphs">0</text>
<text x="36.80" y="284.72" font-size="9.0" text-anchor="end" fill="#2a2a2a" stroke="#2a2a2a" stroke-width="0.2" textLength="8.61" lengthAdjust="spacingAndGlyphs">20</text>
<text x="36.80" y="266.84" font-size="9.0" text-anchor="end" fill="#2a2a2a" stroke="#2a2a2a" stroke-width="0.2" textLength="8.61" lengthAdjust="spacingAndGlyphs">40</text>
<text x="36.80" y="248.96" font-size="9.0" text-anchor="end" fill="#2a2a2a" stroke="#2a2a2a" stroke-width="0.2" textLength="8.61" lengthAdjust="spacingAndGlyphs">60</text>
<text x="36.80" y="231.08" font-size="9.0" text-anchor="end" fill="#2a2a2a" stroke="#2a2a2a" stroke-width="0.2" textLength="8.61" lengthAdjust="spacingAndGlyphs">80</text>
<text x="36.80" y="213.20" font-size="9.0" text-anchor="end" fill="#2a2a2a" stroke="#2a2a2a" stroke-width="0.2" textLength="12.91" lengthAdjust="spacingAndGlyphs">100</text>
<line x1="43.00" y1="299.50" x2="134.50" y2="299.50" stroke="#262626" stroke-width="1.2" stroke-linecap="butt"/>
<line x1="43.50" y1="299.30" x2="43.50" y2="302.30" stroke="#262626" stroke-width="1.2" stroke-linecap="butt"/>
<line x1="65.50" y1="299.30" x2="65.50" y2="302.30" stroke="#262626" stroke-width="1.2" stroke-linecap="butt"/>
<line x1="87.50" y1="299.30" x2="87.50" y2="302.30" stroke="#262626" stroke-width="1.2" stroke-linecap="butt"/>
<line x1="109.50" y1="299.30" x2="109.50" y2="302.30" stroke="#262626" stroke-width="1.2" stroke-linecap="butt"/>
<line x1="131.50" y1="299.30" x2="131.50" y2="302.30" stroke="#262626" stroke-width="1.2" stroke-linecap="butt"/>
<line x1="54.50" y1="299.30" x2="54.50" y2="301.10" stroke="#262626" stroke-width="0.9" stroke-linecap="butt"/>
<line x1="76.50" y1="299.30" x2="76.50" y2="301.10" stroke="#262626" stroke-width="0.9" stroke-linecap="butt"/>
<line x1="98.50" y1="299.30" x2="98.50" y2="301.10" stroke="#262626" stroke-width="0.9" stroke-linecap="butt"/>
<line x1="120.50" y1="299.30" x2="120.50" y2="301.10" stroke="#262626" stroke-width="0.9" stroke-linecap="butt"/>
<text x="43.00" y="312.40" font-size="9.0" text-anchor="middle" fill="#2a2a2a" stroke="#2a2a2a" stroke-width="0.2" textLength="4.30" lengthAdjust="spacingAndGlyphs">0</text>
<text x="65.10" y="312.40" font-size="9.0" text-anchor="middle" fill="#2a2a2a" stroke="#2a2a2a" stroke-width="0.2" textLength="8.61" lengthAdjust="spacingAndGlyphs">24</text>
<text x="87.21" y="312.40" font-size="9.0" text-anchor="middle" fill="#2a2a2a" stroke="#2a2a2a" stroke-width="0.2" textLength="8.61" lengthAdjust="spacingAndGlyphs">48</text>
<text x="109.31" y="312.40" font-size="9.0" text-anchor="middle" fill="#2a2a2a" stroke="#2a2a2a" stroke-width="0.2" textLength="8.61" lengthAdjust="spacingAndGlyphs">72</text>
<text x="131.42" y="312.40" font-size="9.0" text-anchor="middle" fill="#2a2a2a" stroke="#2a2a2a" stroke-width="0.2" textLength="8.61" lengthAdjust="spacingAndGlyphs">96</text>
<text x="89.00" y="324.60" font-size="9.4" text-anchor="middle" fill="#2a2a2a" stroke="#2a2a2a" stroke-width="0.2" textLength="53.00" lengthAdjust="spacingAndGlyphs">Hours of culture</text>
<text x="18.60" y="253.10" font-size="9.4" text-anchor="middle" fill="#2a2a2a" stroke="#2a2a2a" stroke-width="0.2" textLength="54.50" lengthAdjust="spacingAndGlyphs" transform="rotate(-90 18.60 253.10)">Divided cells (%)</text>
<line x1="43.60" y1="254.50" x2="131.30" y2="254.50" stroke="#1a1a1a" stroke-width="1.3" stroke-linecap="butt" stroke-dasharray="3.6,2.2"/>
<path d="M43.00,298.30 C45.83,298.22 54.67,298.05 60.00,297.80 C65.33,297.55 71.00,297.27 75.00,296.80 C79.00,296.33 81.67,295.72 84.00,295.00 C86.33,294.28 87.50,293.75 89.00,292.50 C90.50,291.25 91.37,291.17 93.00,287.50 C94.63,283.83 97.23,275.82 98.80,270.50 C100.37,265.18 101.33,259.85 102.40,255.60 C103.47,251.35 103.98,249.02 105.20,245.00 C106.42,240.98 108.12,235.13 109.70,231.50 C111.28,227.87 112.55,225.80 114.70,223.20 C116.85,220.60 119.80,217.78 122.60,215.90 C125.40,214.02 130.02,212.57 131.50,211.90" fill="none" stroke="#b51038" stroke-width="1.8" stroke-linecap="round"/>
<circle cx="47.50" cy="299.10" r="2.3" fill="#b51038"/>
<circle cx="58.80" cy="298.10" r="2.3" fill="#b51038"/>
<circle cx="67.90" cy="296.00" r="2.3" fill="#b51038"/>
<circle cx="81.90" cy="294.00" r="2.3" fill="#b51038"/>
<circle cx="89.50" cy="294.00" r="2.3" fill="#b51038"/>
<circle cx="104.40" cy="247.70" r="2.3" fill="#b51038"/>
<circle cx="113.90" cy="224.40" r="2.3" fill="#b51038"/>
<circle cx="126.20" cy="212.50" r="2.3" fill="#b51038"/>
<text x="148.60" y="188.10" font-size="11.6" text-anchor="start" font-weight="bold" fill="#0d0d0d">F</text>
<text x="226.25" y="202.00" font-size="9.8" text-anchor="middle" fill="#262626" stroke="#262626" stroke-width="0.2" textLength="45.50" lengthAdjust="spacingAndGlyphs">EXPER_CB</text>
<line x1="180.50" y1="209.50" x2="180.50" y2="299.80" stroke="#262626" stroke-width="1.2" stroke-linecap="butt"/>
<line x1="177.00" y1="299.50" x2="180.00" y2="299.50" stroke="#262626" stroke-width="1.2" stroke-linecap="butt"/>
<line x1="177.00" y1="281.50" x2="180.00" y2="281.50" stroke="#262626" stroke-width="1.2" stroke-linecap="butt"/>
<line x1="177.00" y1="264.50" x2="180.00" y2="264.50" stroke="#262626" stroke-width="1.2" stroke-linecap="butt"/>
<line x1="177.00" y1="246.50" x2="180.00" y2="246.50" stroke="#262626" stroke-width="1.2" stroke-linecap="butt"/>
<line x1="177.00" y1="228.50" x2="180.00" y2="228.50" stroke="#262626" stroke-width="1.2" stroke-linecap="butt"/>
<line x1="177.00" y1="211.50" x2="180.00" y2="211.50" stroke="#262626" stroke-width="1.2" stroke-linecap="butt"/>
<line x1="178.70" y1="290.50" x2="180.00" y2="290.50" stroke="#262626" stroke-width="0.9" stroke-linecap="butt"/>
<line x1="178.70" y1="272.50" x2="180.00" y2="272.50" stroke="#262626" stroke-width="0.9" stroke-linecap="butt"/>
<line x1="178.70" y1="255.50" x2="180.00" y2="255.50" stroke="#262626" stroke-width="0.9" stroke-linecap="butt"/>
<line x1="178.70" y1="237.50" x2="180.00" y2="237.50" stroke="#262626" stroke-width="0.9" stroke-linecap="butt"/>
<line x1="178.70" y1="220.50" x2="180.00" y2="220.50" stroke="#262626" stroke-width="0.9" stroke-linecap="butt"/>
<text x="175.00" y="302.40" font-size="9.0" text-anchor="end" fill="#2a2a2a" stroke="#2a2a2a" stroke-width="0.2" textLength="4.30" lengthAdjust="spacingAndGlyphs">0</text>
<text x="175.00" y="284.80" font-size="9.0" text-anchor="end" fill="#2a2a2a" stroke="#2a2a2a" stroke-width="0.2" textLength="8.61" lengthAdjust="spacingAndGlyphs">20</text>
<text x="175.00" y="267.20" font-size="9.0" text-anchor="end" fill="#2a2a2a" stroke="#2a2a2a" stroke-width="0.2" textLength="8.61" lengthAdjust="spacingAndGlyphs">40</text>
<text x="175.00" y="249.60" font-size="9.0" text-anchor="end" fill="#2a2a2a" stroke="#2a2a2a" stroke-width="0.2" textLength="8.61" lengthAdjust="spacingAndGlyphs">60</text>
<text x="175.00" y="232.00" font-size="9.0" text-anchor="end" fill="#2a2a2a" stroke="#2a2a2a" stroke-width="0.2" textLength="8.61" lengthAdjust="spacingAndGlyphs">80</text>
<text x="175.00" y="214.40" font-size="9.0" text-anchor="end" fill="#2a2a2a" stroke="#2a2a2a" stroke-width="0.2" textLength="12.91" lengthAdjust="spacingAndGlyphs">100</text>
<line x1="180.00" y1="299.50" x2="271.00" y2="299.50" stroke="#262626" stroke-width="1.2" stroke-linecap="butt"/>
<line x1="181.50" y1="299.20" x2="181.50" y2="302.20" stroke="#262626" stroke-width="1.2" stroke-linecap="butt"/>
<line x1="202.50" y1="299.20" x2="202.50" y2="302.20" stroke="#262626" stroke-width="1.2" stroke-linecap="butt"/>
<line x1="224.50" y1="299.20" x2="224.50" y2="302.20" stroke="#262626" stroke-width="1.2" stroke-linecap="butt"/>
<line x1="246.50" y1="299.20" x2="246.50" y2="302.20" stroke="#262626" stroke-width="1.2" stroke-linecap="butt"/>
<line x1="268.50" y1="299.20" x2="268.50" y2="302.20" stroke="#262626" stroke-width="1.2" stroke-linecap="butt"/>
<line x1="192.50" y1="299.20" x2="192.50" y2="301.00" stroke="#262626" stroke-width="0.9" stroke-linecap="butt"/>
<line x1="213.50" y1="299.20" x2="213.50" y2="301.00" stroke="#262626" stroke-width="0.9" stroke-linecap="butt"/>
<line x1="235.50" y1="299.20" x2="235.50" y2="301.00" stroke="#262626" stroke-width="0.9" stroke-linecap="butt"/>
<line x1="257.50" y1="299.20" x2="257.50" y2="301.00" stroke="#262626" stroke-width="0.9" stroke-linecap="butt"/>
<text x="181.10" y="312.40" font-size="9.0" text-anchor="middle" fill="#2a2a2a" stroke="#2a2a2a" stroke-width="0.2" textLength="4.30" lengthAdjust="spacingAndGlyphs">0</text>
<text x="202.96" y="312.40" font-size="9.0" text-anchor="middle" fill="#2a2a2a" stroke="#2a2a2a" stroke-width="0.2" textLength="8.61" lengthAdjust="spacingAndGlyphs">24</text>
<text x="224.83" y="312.40" font-size="9.0" text-anchor="middle" fill="#2a2a2a" stroke="#2a2a2a" stroke-width="0.2" textLength="8.61" lengthAdjust="spacingAndGlyphs">48</text>
<text x="246.69" y="312.40" font-size="9.0" text-anchor="middle" fill="#2a2a2a" stroke="#2a2a2a" stroke-width="0.2" textLength="8.61" lengthAdjust="spacingAndGlyphs">72</text>
<text x="268.56" y="312.40" font-size="9.0" text-anchor="middle" fill="#2a2a2a" stroke="#2a2a2a" stroke-width="0.2" textLength="8.61" lengthAdjust="spacingAndGlyphs">96</text>
<text x="226.25" y="324.40" font-size="9.4" text-anchor="middle" fill="#2a2a2a" stroke="#2a2a2a" stroke-width="0.2" textLength="53.50" lengthAdjust="spacingAndGlyphs">Hours of culture</text>
<text x="157.20" y="253.30" font-size="9.4" text-anchor="middle" fill="#2a2a2a" stroke="#2a2a2a" stroke-width="0.2" textLength="54.50" lengthAdjust="spacingAndGlyphs" transform="rotate(-90 157.20 253.30)">Divided cells (%)</text>
<line x1="180.60" y1="255.50" x2="267.50" y2="255.50" stroke="#1a1a1a" stroke-width="1.3" stroke-linecap="butt" stroke-dasharray="3.6,2.2"/>
<path d="M181.10,298.60 C185.08,298.60 200.27,298.65 205.00,298.60 C209.73,298.55 207.68,298.85 209.50,298.30 C211.32,297.75 213.85,296.97 215.90,295.30 C217.95,293.63 219.98,291.45 221.80,288.30 C223.62,285.15 225.15,281.68 226.80,276.40 C228.45,271.12 230.05,262.30 231.70,256.60 C233.35,250.90 234.87,246.50 236.70,242.20 C238.53,237.90 240.88,233.70 242.70,230.80 C244.52,227.90 245.78,226.52 247.60,224.80 C249.42,223.08 251.53,221.50 253.60,220.50 C255.67,219.50 257.68,219.23 260.00,218.80 C262.32,218.37 266.25,218.05 267.50,217.90" fill="none" stroke="#1a4a7e" stroke-width="1.8" stroke-linecap="round"/>
<circle cx="181.50" cy="299.00" r="2.3" fill="#1a4a7e"/>
<circle cx="198.90" cy="299.00" r="2.3" fill="#1a4a7e"/>
<circle cx="209.50" cy="298.80" r="2.3" fill="#1a4a7e"/>
<circle cx="221.80" cy="288.30" r="2.3" fill="#1a4a7e"/>
<circle cx="231.20" cy="258.60" r="2.3" fill="#1a4a7e"/>
<circle cx="243.50" cy="230.80" r="2.3" fill="#1a4a7e"/>
<circle cx="253.20" cy="220.20" r="2.3" fill="#1a4a7e"/>
<circle cx="267.50" cy="217.90" r="2.3" fill="#1a4a7e"/>
<text x="284.40" y="187.60" font-size="11.6" text-anchor="start" font-weight="bold" fill="#0d0d0d">G</text>
<line x1="315.50" y1="207.50" x2="315.50" y2="299.60" stroke="#262626" stroke-width="1.2" stroke-linecap="butt"/>
<line x1="312.00" y1="299.50" x2="315.00" y2="299.50" stroke="#262626" stroke-width="1.2" stroke-linecap="butt"/>
<line x1="312.00" y1="277.50" x2="315.00" y2="277.50" stroke="#262626" stroke-width="1.2" stroke-linecap="butt"/>
<line x1="312.00" y1="255.50" x2="315.00" y2="255.50" stroke="#262626" stroke-width="1.2" stroke-linecap="butt"/>
<line x1="312.00" y1="233.50" x2="315.00" y2="233.50" stroke="#262626" stroke-width="1.2" stroke-linecap="butt"/>
<line x1="312.00" y1="211.50" x2="315.00" y2="211.50" stroke="#262626" stroke-width="1.2" stroke-linecap="butt"/>
<text x="310.80" y="302.20" font-size="9.0" text-anchor="end" fill="#2a2a2a" stroke="#2a2a2a" stroke-width="0.2" textLength="4.30" lengthAdjust="spacingAndGlyphs">0</text>
<text x="310.80" y="280.20" font-size="9.0" text-anchor="end" fill="#2a2a2a" stroke="#2a2a2a" stroke-width="0.2" textLength="8.61" lengthAdjust="spacingAndGlyphs">20</text>
<text x="310.80" y="258.20" font-size="9.0" text-anchor="end" fill="#2a2a2a" stroke="#2a2a2a" stroke-width="0.2" textLength="8.61" lengthAdjust="spacingAndGlyphs">40</text>
<text x="310.80" y="236.20" font-size="9.0" text-anchor="end" fill="#2a2a2a" stroke="#2a2a2a" stroke-width="0.2" textLength="8.61" lengthAdjust="spacingAndGlyphs">60</text>
<text x="310.80" y="214.20" font-size="9.0" text-anchor="end" fill="#2a2a2a" stroke="#2a2a2a" stroke-width="0.2" textLength="8.61" lengthAdjust="spacingAndGlyphs">80</text>
<line x1="315.00" y1="299.50" x2="372.30" y2="299.50" stroke="#262626" stroke-width="1.2" stroke-linecap="butt"/>
<line x1="330.50" y1="299.00" x2="330.50" y2="302.00" stroke="#262626" stroke-width="1.2" stroke-linecap="butt"/>
<line x1="358.50" y1="299.00" x2="358.50" y2="302.00" stroke="#262626" stroke-width="1.2" stroke-linecap="butt"/>
<text x="330.80" y="311.60" font-size="9.0" text-anchor="middle" fill="#2a2a2a" stroke="#2a2a2a" stroke-width="0.2" textLength="16.77" lengthAdjust="spacingAndGlyphs">mPB</text>
<text x="358.30" y="311.60" font-size="9.0" text-anchor="middle" fill="#2a2a2a" stroke="#2a2a2a" stroke-width="0.2" textLength="10.75" lengthAdjust="spacingAndGlyphs">CB</text>
<text x="290.80" y="252.90" font-size="8.8" text-anchor="middle" fill="#2a2a2a" stroke="#2a2a2a" stroke-width="0.2" textLength="93.00" lengthAdjust="spacingAndGlyphs" transform="rotate(-90 290.80 252.90)">Time to first division (hours)</text>
<line x1="331.00" y1="211.50" x2="361.00" y2="211.50" stroke="#333" stroke-width="1.1" stroke-linecap="butt"/>
<line x1="331.50" y1="210.00" x2="331.50" y2="213.50" stroke="#333" stroke-width="1.1" stroke-linecap="butt"/>
<line x1="361.50" y1="210.00" x2="361.50" y2="213.50" stroke="#333" stroke-width="1.1" stroke-linecap="butt"/>
<text x="346.00" y="209.40" font-size="8.4" text-anchor="middle" font-style="italic" fill="#2a2a2a" stroke="#2a2a2a" stroke-width="0.2" textLength="25.00" lengthAdjust="spacingAndGlyphs">0.0395</text>
<rect x="328.30" y="215.10" width="5.20" height="5.20" fill="#b51038" stroke="#8a0f2e" stroke-width="0.4"/>
<rect x="328.30" y="225.90" width="5.20" height="5.20" fill="#b51038" stroke="#8a0f2e" stroke-width="0.4"/>
<rect x="328.30" y="229.50" width="5.20" height="5.20" fill="#b51038" stroke="#8a0f2e" stroke-width="0.4"/>
<line x1="320.60" y1="225.40" x2="340.80" y2="225.40" stroke="#111" stroke-width="1.8" stroke-linecap="butt"/>
<rect x="356.10" y="229.90" width="4.80" height="4.80" fill="#1f3d5c" stroke="#142a40" stroke-width="0.4"/>
<rect x="356.10" y="236.40" width="4.80" height="4.80" fill="#1f3d5c" stroke="#142a40" stroke-width="0.4"/>
<rect x="356.10" y="242.00" width="4.80" height="4.80" fill="#1f3d5c" stroke="#142a40" stroke-width="0.4"/>
<rect x="356.10" y="247.40" width="4.80" height="4.80" fill="#1f3d5c" stroke="#142a40" stroke-width="0.4"/>
<line x1="348.10" y1="238.00" x2="368.50" y2="238.00" stroke="#111" stroke-width="1.8" stroke-linecap="butt"/>
<text x="385.20" y="188.00" font-size="11.6" text-anchor="start" font-weight="bold" fill="#0d0d0d">H</text>
<text x="465.90" y="202.50" font-size="9.8" text-anchor="middle" fill="#262626" stroke="#262626" stroke-width="0.2" textLength="36.30" lengthAdjust="spacingAndGlyphs">GT_mPB</text>
<line x1="419.50" y1="214.50" x2="419.50" y2="299.90" stroke="#262626" stroke-width="1.2" stroke-linecap="butt"/>
<line x1="416.50" y1="299.50" x2="419.50" y2="299.50" stroke="#262626" stroke-width="1.2" stroke-linecap="butt"/>
<line x1="416.50" y1="238.50" x2="419.50" y2="238.50" stroke="#262626" stroke-width="1.2" stroke-linecap="butt"/>
<line x1="417.80" y1="280.50" x2="419.50" y2="280.50" stroke="#262626" stroke-width="0.9" stroke-linecap="butt"/>
<line x1="417.80" y1="270.50" x2="419.50" y2="270.50" stroke="#262626" stroke-width="0.9" stroke-linecap="butt"/>
<line x1="417.80" y1="262.50" x2="419.50" y2="262.50" stroke="#262626" stroke-width="0.9" stroke-linecap="butt"/>
<line x1="417.80" y1="256.50" x2="419.50" y2="256.50" stroke="#262626" stroke-width="0.9" stroke-linecap="butt"/>
<line x1="417.80" y1="251.50" x2="419.50" y2="251.50" stroke="#262626" stroke-width="0.9" stroke-linecap="butt"/>
<line x1="417.80" y1="247.50" x2="419.50" y2="247.50" stroke="#262626" stroke-width="0.9" stroke-linecap="butt"/>
<line x1="417.80" y1="244.50" x2="419.50" y2="244.50" stroke="#262626" stroke-width="0.9" stroke-linecap="butt"/>
<line x1="417.80" y1="241.50" x2="419.50" y2="241.50" stroke="#262626" stroke-width="0.9" stroke-linecap="butt"/>
<line x1="417.80" y1="220.50" x2="419.50" y2="220.50" stroke="#262626" stroke-width="0.9" stroke-linecap="butt"/>
<text x="413.60" y="240.90" font-size="9.0" text-anchor="end" fill="#2a2a2a" stroke="#2a2a2a" stroke-width="0.2" textLength="10.76" lengthAdjust="spacingAndGlyphs">0.1</text>
<text x="413.20" y="301.30" font-size="9.0" text-anchor="end" fill="#2a2a2a" stroke="#2a2a2a" stroke-width="0.2" textLength="15.06" lengthAdjust="spacingAndGlyphs">0.01</text>
<line x1="419.30" y1="298.50" x2="511.40" y2="298.50" stroke="#262626" stroke-width="1.2" stroke-linecap="butt"/>
<line x1="422.50" y1="298.80" x2="422.50" y2="301.80" stroke="#262626" stroke-width="1.2" stroke-linecap="butt"/>
<line x1="443.50" y1="298.80" x2="443.50" y2="301.80" stroke="#262626" stroke-width="1.2" stroke-linecap="butt"/>
<line x1="465.50" y1="298.80" x2="465.50" y2="301.80" stroke="#262626" stroke-width="1.2" stroke-linecap="butt"/>
<line x1="487.50" y1="298.80" x2="487.50" y2="301.80" stroke="#262626" stroke-width="1.2" stroke-linecap="butt"/>
<line x1="509.50" y1="298.80" x2="509.50" y2="301.80" stroke="#262626" stroke-width="1.2" stroke-linecap="butt"/>
<line x1="432.50" y1="298.80" x2="432.50" y2="300.60" stroke="#262626" stroke-width="0.9" stroke-linecap="butt"/>
<line x1="454.50" y1="298.80" x2="454.50" y2="300.60" stroke="#262626" stroke-width="0.9" stroke-linecap="butt"/>
<line x1="476.50" y1="298.80" x2="476.50" y2="300.60" stroke="#262626" stroke-width="0.9" stroke-linecap="butt"/>
<line x1="498.50" y1="298.80" x2="498.50" y2="300.60" stroke="#262626" stroke-width="0.9" stroke-linecap="butt"/>
<text x="422.00" y="311.80" font-size="9.0" text-anchor="middle" fill="#2a2a2a" stroke="#2a2a2a" stroke-width="0.2" textLength="4.30" lengthAdjust="spacingAndGlyphs">0</text>
<text x="443.75" y="311.80" font-size="9.0" text-anchor="middle" fill="#2a2a2a" stroke="#2a2a2a" stroke-width="0.2" textLength="8.61" lengthAdjust="spacingAndGlyphs">20</text>
<text x="465.50" y="311.80" font-size="9.0" text-anchor="middle" fill="#2a2a2a" stroke="#2a2a2a" stroke-width="0.2" textLength="8.61" lengthAdjust="spacingAndGlyphs">40</text>
<text x="487.25" y="311.80" font-size="9.0" text-anchor="middle" fill="#2a2a2a" stroke="#2a2a2a" stroke-width="0.2" textLength="8.61" lengthAdjust="spacingAndGlyphs">60</text>
<text x="509.00" y="311.80" font-size="9.0" text-anchor="middle" fill="#2a2a2a" stroke="#2a2a2a" stroke-width="0.2" textLength="8.61" lengthAdjust="spacingAndGlyphs">80</text>
<text x="465.70" y="324.40" font-size="9.4" text-anchor="middle" fill="#2a2a2a" stroke="#2a2a2a" stroke-width="0.2" textLength="52.60" lengthAdjust="spacingAndGlyphs">Hours of culture</text>
<text x="392.20" y="256.75" font-size="8.8" text-anchor="middle" fill="#2a2a2a" stroke="#2a2a2a" stroke-width="0.2" textLength="87.50" lengthAdjust="spacingAndGlyphs" transform="rotate(-90 392.20 256.75)">LTRC in CD34+/CD38- (%)</text>
<polyline points="422.75,220.50 447.75,251.00 489.90,243.60" fill="none" stroke="#c2c2c2" stroke-width="0.9" stroke-linejoin="round"/>
<polyline points="422.70,255.60 448.00,290.10 489.90,280.50" fill="none" stroke="#c2c2c2" stroke-width="0.9" stroke-linejoin="round"/>
<line x1="422.00" y1="221.50" x2="488.50" y2="221.50" stroke="#2a2a2a" stroke-width="1.1" stroke-linecap="butt"/>
<line x1="422.50" y1="219.90" x2="422.50" y2="223.30" stroke="#2a2a2a" stroke-width="1.1" stroke-linecap="butt"/>
<line x1="488.50" y1="219.90" x2="488.50" y2="223.30" stroke="#2a2a2a" stroke-width="1.1" stroke-linecap="butt"/>
<text x="501.20" y="224.60" font-size="8.4" text-anchor="middle" font-style="italic" fill="#2a2a2a" stroke="#2a2a2a" stroke-width="0.2" textLength="19.50" lengthAdjust="spacingAndGlyphs">0.031</text>
<line x1="422.00" y1="227.50" x2="450.25" y2="227.50" stroke="#2a2a2a" stroke-width="1.1" stroke-linecap="butt"/>
<line x1="422.50" y1="225.80" x2="422.50" y2="229.20" stroke="#2a2a2a" stroke-width="1.1" stroke-linecap="butt"/>
<line x1="450.50" y1="225.80" x2="450.50" y2="229.20" stroke="#2a2a2a" stroke-width="1.1" stroke-linecap="butt"/>
<text x="463.10" y="230.50" font-size="8.4" text-anchor="middle" font-style="italic" fill="#2a2a2a" stroke="#2a2a2a" stroke-width="0.2" textLength="20.70" lengthAdjust="spacingAndGlyphs">0.003</text>
<line x1="428.50" y1="235.50" x2="450.25" y2="235.50" stroke="#2a2a2a" stroke-width="1.1" stroke-linecap="butt"/>
<line x1="428.50" y1="233.80" x2="428.50" y2="237.20" stroke="#2a2a2a" stroke-width="1.1" stroke-linecap="butt"/>
<line x1="450.50" y1="233.80" x2="450.50" y2="237.20" stroke="#2a2a2a" stroke-width="1.1" stroke-linecap="butt"/>
<text x="465.20" y="238.50" font-size="8.4" text-anchor="middle" font-style="italic" fill="#2a2a2a" stroke="#2a2a2a" stroke-width="0.2" textLength="25.00" lengthAdjust="spacingAndGlyphs">0.0539</text>
<polyline points="421.90,237.30 428.50,243.60 447.50,270.50 489.10,262.70" fill="none" stroke="#a8123a" stroke-width="2.0" stroke-linejoin="round" stroke-dasharray="4,2.4"/>
<circle cx="421.90" cy="237.30" r="2.6" fill="#111"/>
<circle cx="428.50" cy="243.60" r="2.6" fill="#111"/>
<circle cx="447.50" cy="270.50" r="2.6" fill="#111"/>
<circle cx="489.10" cy="262.70" r="2.6" fill="#111"/>
<text x="50.20" y="355.40" font-size="11.6" text-anchor="start" font-weight="bold" fill="#0d0d0d">I</text>
<text x="125.30" y="363.00" font-size="9.8" text-anchor="middle" fill="#262626" stroke="#262626" stroke-width="0.2" textLength="46.50" lengthAdjust="spacingAndGlyphs">EXPER_CB</text>
<polygon points="88,400 109,426.4 160,450.2 157,466 105.5,443 81.5,414" fill="#f1f8fc"/>
<line x1="79.50" y1="382.50" x2="79.50" y2="469.60" stroke="#262626" stroke-width="1.2" stroke-linecap="butt"/>
<line x1="76.60" y1="439.50" x2="79.60" y2="439.50" stroke="#262626" stroke-width="1.2" stroke-linecap="butt"/>
<line x1="76.60" y1="397.50" x2="79.60" y2="397.50" stroke="#262626" stroke-width="1.2" stroke-linecap="butt"/>
<line x1="77.90" y1="461.50" x2="79.60" y2="461.50" stroke="#262626" stroke-width="0.9" stroke-linecap="butt"/>
<line x1="77.90" y1="456.50" x2="79.60" y2="456.50" stroke="#262626" stroke-width="0.9" stroke-linecap="butt"/>
<line x1="77.90" y1="451.50" x2="79.60" y2="451.50" stroke="#262626" stroke-width="0.9" stroke-linecap="butt"/>
<line x1="77.90" y1="448.50" x2="79.60" y2="448.50" stroke="#262626" stroke-width="0.9" stroke-linecap="butt"/>
<line x1="77.90" y1="445.50" x2="79.60" y2="445.50" stroke="#262626" stroke-width="0.9" stroke-linecap="butt"/>
<line x1="77.90" y1="443.50" x2="79.60" y2="443.50" stroke="#262626" stroke-width="0.9" stroke-linecap="butt"/>
<line x1="77.90" y1="441.50" x2="79.60" y2="441.50" stroke="#262626" stroke-width="0.9" stroke-linecap="butt"/>
<line x1="77.90" y1="426.50" x2="79.60" y2="426.50" stroke="#262626" stroke-width="0.9" stroke-linecap="butt"/>
<line x1="77.90" y1="419.50" x2="79.60" y2="419.50" stroke="#262626" stroke-width="0.9" stroke-linecap="butt"/>
<line x1="77.90" y1="413.50" x2="79.60" y2="413.50" stroke="#262626" stroke-width="0.9" stroke-linecap="butt"/>
<line x1="77.90" y1="409.50" x2="79.60" y2="409.50" stroke="#262626" stroke-width="0.9" stroke-linecap="butt"/>
<line x1="77.90" y1="406.50" x2="79.60" y2="406.50" stroke="#262626" stroke-width="0.9" stroke-linecap="butt"/>
<line x1="77.90" y1="403.50" x2="79.60" y2="403.50" stroke="#262626" stroke-width="0.9" stroke-linecap="butt"/>
<line x1="77.90" y1="401.50" x2="79.60" y2="401.50" stroke="#262626" stroke-width="0.9" stroke-linecap="butt"/>
<line x1="77.90" y1="398.50" x2="79.60" y2="398.50" stroke="#262626" stroke-width="0.9" stroke-linecap="butt"/>
<line x1="77.90" y1="384.50" x2="79.60" y2="384.50" stroke="#262626" stroke-width="0.9" stroke-linecap="butt"/>
<text x="73.40" y="400.00" font-size="9.0" text-anchor="end" fill="#2a2a2a" stroke="#2a2a2a" stroke-width="0.2" textLength="8.61" lengthAdjust="spacingAndGlyphs">10</text>
<text x="73.40" y="442.25" font-size="9.0" text-anchor="end" fill="#2a2a2a" stroke="#2a2a2a" stroke-width="0.2" textLength="4.30" lengthAdjust="spacingAndGlyphs">1</text>
<line x1="79.60" y1="469.50" x2="170.50" y2="469.50" stroke="#262626" stroke-width="1.2" stroke-linecap="butt"/>
<line x1="81.50" y1="469.00" x2="81.50" y2="472.00" stroke="#262626" stroke-width="1.2" stroke-linecap="butt"/>
<line x1="103.50" y1="469.00" x2="103.50" y2="472.00" stroke="#262626" stroke-width="1.2" stroke-linecap="butt"/>
<line x1="124.50" y1="469.00" x2="124.50" y2="472.00" stroke="#262626" stroke-width="1.2" stroke-linecap="butt"/>
<line x1="146.50" y1="469.00" x2="146.50" y2="472.00" stroke="#262626" stroke-width="1.2" stroke-linecap="butt"/>
<line x1="168.50" y1="469.00" x2="168.50" y2="472.00" stroke="#262626" stroke-width="1.2" stroke-linecap="butt"/>
<line x1="92.50" y1="469.00" x2="92.50" y2="470.80" stroke="#262626" stroke-width="0.9" stroke-linecap="butt"/>
<line x1="113.50" y1="469.00" x2="113.50" y2="470.80" stroke="#262626" stroke-width="0.9" stroke-linecap="butt"/>
<line x1="135.50" y1="469.00" x2="135.50" y2="470.80" stroke="#262626" stroke-width="0.9" stroke-linecap="butt"/>
<line x1="157.50" y1="469.00" x2="157.50" y2="470.80" stroke="#262626" stroke-width="0.9" stroke-linecap="butt"/>
<text x="81.50" y="482.20" font-size="9.0" text-anchor="middle" fill="#2a2a2a" stroke="#2a2a2a" stroke-width="0.2" textLength="4.30" lengthAdjust="spacingAndGlyphs">0</text>
<text x="103.16" y="482.20" font-size="9.0" text-anchor="middle" fill="#2a2a2a" stroke="#2a2a2a" stroke-width="0.2" textLength="8.61" lengthAdjust="spacingAndGlyphs">20</text>
<text x="124.82" y="482.20" font-size="9.0" text-anchor="middle" fill="#2a2a2a" stroke="#2a2a2a" stroke-width="0.2" textLength="8.61" lengthAdjust="spacingAndGlyphs">40</text>
<text x="146.48" y="482.20" font-size="9.0" text-anchor="middle" fill="#2a2a2a" stroke="#2a2a2a" stroke-width="0.2" textLength="8.61" lengthAdjust="spacingAndGlyphs">60</text>
<text x="168.14" y="482.20" font-size="9.0" text-anchor="middle" fill="#2a2a2a" stroke="#2a2a2a" stroke-width="0.2" textLength="8.61" lengthAdjust="spacingAndGlyphs">80</text>
<text x="125.40" y="494.60" font-size="9.4" text-anchor="middle" fill="#2a2a2a" stroke="#2a2a2a" stroke-width="0.2" textLength="53.70" lengthAdjust="spacingAndGlyphs">Hours of culture</text>
<text x="59.80" y="424.90" font-size="8.8" text-anchor="middle" fill="#2a2a2a" stroke="#2a2a2a" stroke-width="0.2" textLength="64.80" lengthAdjust="spacingAndGlyphs" transform="rotate(-90 59.80 424.90)">LTRC in LT-HSCs (%)</text>
<polyline points="88.00,400.00 109.00,426.40 160.00,450.20" fill="none" stroke="#d8c6bc" stroke-width="0.9" stroke-linejoin="round" stroke-dasharray="2.6,2.2"/>
<polyline points="81.50,414.00 105.50,443.00 157.00,466.00" fill="none" stroke="#d8c6bc" stroke-width="0.9" stroke-linejoin="round" stroke-dasharray="2.6,2.2"/>
<line x1="81.00" y1="392.50" x2="107.50" y2="392.50" stroke="#2a2a2a" stroke-width="1.1" stroke-linecap="butt"/>
<line x1="81.50" y1="390.30" x2="81.50" y2="393.70" stroke="#2a2a2a" stroke-width="1.1" stroke-linecap="butt"/>
<line x1="107.50" y1="390.30" x2="107.50" y2="393.70" stroke="#2a2a2a" stroke-width="1.1" stroke-linecap="butt"/>
<text x="124.60" y="394.20" font-size="8.4" text-anchor="middle" font-style="italic" fill="#2a2a2a" stroke="#2a2a2a" stroke-width="0.2" textLength="28.60" lengthAdjust="spacingAndGlyphs">0.00015</text>
<line x1="88.50" y1="398.50" x2="107.50" y2="398.50" stroke="#2a2a2a" stroke-width="1.1" stroke-linecap="butt"/>
<line x1="88.50" y1="397.20" x2="88.50" y2="400.60" stroke="#2a2a2a" stroke-width="1.1" stroke-linecap="butt"/>
<line x1="107.50" y1="397.20" x2="107.50" y2="400.60" stroke="#2a2a2a" stroke-width="1.1" stroke-linecap="butt"/>
<text x="124.60" y="401.20" font-size="8.4" text-anchor="middle" font-style="italic" fill="#2a2a2a" stroke="#2a2a2a" stroke-width="0.2" textLength="28.60" lengthAdjust="spacingAndGlyphs">0.00148</text>
<line x1="106.50" y1="423.50" x2="159.00" y2="423.50" stroke="#2a2a2a" stroke-width="1.1" stroke-linecap="butt"/>
<line x1="106.50" y1="422.20" x2="106.50" y2="425.60" stroke="#2a2a2a" stroke-width="1.1" stroke-linecap="butt"/>
<line x1="159.50" y1="422.20" x2="159.50" y2="425.60" stroke="#2a2a2a" stroke-width="1.1" stroke-linecap="butt"/>
<text x="132.60" y="421.90" font-size="8.4" text-anchor="middle" font-style="italic" fill="#2a2a2a" stroke="#2a2a2a" stroke-width="0.2" textLength="24.00" lengthAdjust="spacingAndGlyphs">0.0129</text>
<polyline points="81.70,404.30 88.10,405.20 107.80,436.25 159.50,459.00" fill="none" stroke="#1b3a5c" stroke-width="1.8" stroke-linejoin="round" stroke-dasharray="3.2,2.6"/>
<circle cx="81.70" cy="404.30" r="2.6" fill="#111"/>
<circle cx="88.10" cy="405.20" r="2.6" fill="#111"/>
<circle cx="107.80" cy="436.25" r="2.6" fill="#111"/>
<circle cx="159.50" cy="459.00" r="2.6" fill="#111"/>
<text x="184.80" y="355.40" font-size="11.6" text-anchor="start" font-weight="bold" fill="#0d0d0d">J</text>
<text x="275.40" y="363.00" font-size="9.8" text-anchor="middle" fill="#262626" stroke="#262626" stroke-width="0.2" textLength="37.25" lengthAdjust="spacingAndGlyphs">GT_mPB</text>
<line x1="229.50" y1="377.50" x2="229.50" y2="469.60" stroke="#262626" stroke-width="1.2" stroke-linecap="butt"/>
<line x1="226.00" y1="469.50" x2="229.00" y2="469.50" stroke="#262626" stroke-width="1.2" stroke-linecap="butt"/>
<line x1="226.00" y1="451.50" x2="229.00" y2="451.50" stroke="#262626" stroke-width="1.2" stroke-linecap="butt"/>
<line x1="226.00" y1="433.50" x2="229.00" y2="433.50" stroke="#262626" stroke-width="1.2" stroke-linecap="butt"/>
<line x1="226.00" y1="415.50" x2="229.00" y2="415.50" stroke="#262626" stroke-width="1.2" stroke-linecap="butt"/>
<line x1="226.00" y1="397.50" x2="229.00" y2="397.50" stroke="#262626" stroke-width="1.2" stroke-linecap="butt"/>
<line x1="226.00" y1="379.50" x2="229.00" y2="379.50" stroke="#262626" stroke-width="1.2" stroke-linecap="butt"/>
<text x="225.00" y="472.20" font-size="9.0" text-anchor="end" fill="#2a2a2a" stroke="#2a2a2a" stroke-width="0.2" textLength="4.30" lengthAdjust="spacingAndGlyphs">0</text>
<text x="225.00" y="454.30" font-size="9.0" text-anchor="end" fill="#2a2a2a" stroke="#2a2a2a" stroke-width="0.2" textLength="8.61" lengthAdjust="spacingAndGlyphs">20</text>
<text x="225.00" y="436.40" font-size="9.0" text-anchor="end" fill="#2a2a2a" stroke="#2a2a2a" stroke-width="0.2" textLength="8.61" lengthAdjust="spacingAndGlyphs">40</text>
<text x="225.00" y="418.50" font-size="9.0" text-anchor="end" fill="#2a2a2a" stroke="#2a2a2a" stroke-width="0.2" textLength="8.61" lengthAdjust="spacingAndGlyphs">60</text>
<text x="225.00" y="400.60" font-size="9.0" text-anchor="end" fill="#2a2a2a" stroke="#2a2a2a" stroke-width="0.2" textLength="8.61" lengthAdjust="spacingAndGlyphs">80</text>
<text x="225.00" y="382.70" font-size="9.0" text-anchor="end" fill="#2a2a2a" stroke="#2a2a2a" stroke-width="0.2" textLength="12.91" lengthAdjust="spacingAndGlyphs">100</text>
<line x1="229.00" y1="469.50" x2="320.00" y2="469.50" stroke="#262626" stroke-width="1.2" stroke-linecap="butt"/>
<line x1="229.50" y1="469.00" x2="229.50" y2="472.00" stroke="#262626" stroke-width="1.2" stroke-linecap="butt"/>
<line x1="251.50" y1="469.00" x2="251.50" y2="472.00" stroke="#262626" stroke-width="1.2" stroke-linecap="butt"/>
<line x1="273.50" y1="469.00" x2="273.50" y2="472.00" stroke="#262626" stroke-width="1.2" stroke-linecap="butt"/>
<line x1="296.50" y1="469.00" x2="296.50" y2="472.00" stroke="#262626" stroke-width="1.2" stroke-linecap="butt"/>
<line x1="318.50" y1="469.00" x2="318.50" y2="472.00" stroke="#262626" stroke-width="1.2" stroke-linecap="butt"/>
<text x="229.00" y="482.20" font-size="9.0" text-anchor="middle" fill="#2a2a2a" stroke="#2a2a2a" stroke-width="0.2" textLength="4.30" lengthAdjust="spacingAndGlyphs">0</text>
<text x="251.34" y="482.20" font-size="9.0" text-anchor="middle" fill="#2a2a2a" stroke="#2a2a2a" stroke-width="0.2" textLength="8.61" lengthAdjust="spacingAndGlyphs">20</text>
<text x="273.68" y="482.20" font-size="9.0" text-anchor="middle" fill="#2a2a2a" stroke="#2a2a2a" stroke-width="0.2" textLength="8.61" lengthAdjust="spacingAndGlyphs">40</text>
<text x="296.02" y="482.20" font-size="9.0" text-anchor="middle" fill="#2a2a2a" stroke="#2a2a2a" stroke-width="0.2" textLength="8.61" lengthAdjust="spacingAndGlyphs">60</text>
<text x="318.36" y="482.20" font-size="9.0" text-anchor="middle" fill="#2a2a2a" stroke="#2a2a2a" stroke-width="0.2" textLength="8.61" lengthAdjust="spacingAndGlyphs">80</text>
<text x="275.40" y="494.60" font-size="9.4" text-anchor="middle" fill="#2a2a2a" stroke="#2a2a2a" stroke-width="0.2" textLength="53.70" lengthAdjust="spacingAndGlyphs">Hours of culture</text>
<text x="193.80" y="423.50" font-size="8.8" text-anchor="middle" fill="#2a2a2a" stroke="#2a2a2a" stroke-width="0.2" textLength="21.80" lengthAdjust="spacingAndGlyphs" transform="rotate(-90 193.80 423.50)">Viable</text>
<text x="202.60" y="423.10" font-size="8.8" text-anchor="middle" fill="#2a2a2a" stroke="#2a2a2a" stroke-width="0.2" textLength="74.40" lengthAdjust="spacingAndGlyphs" transform="rotate(-90 202.60 423.10)">(% annexin-V<tspan font-size="5.5" dy="-3">-</tspan><tspan dy="3">/7-AAD</tspan><tspan font-size="5.5" dy="-3">-</tspan><tspan dy="3">)</tspan></text>
<polyline points="236.50,383.50 256.30,406.00 298.80,403.40" fill="none" stroke="#b51038" stroke-width="2.0" stroke-linejoin="round" stroke-dasharray="4.2,2.6"/>
<line x1="256.50" y1="400.00" x2="256.50" y2="412.00" stroke="#b51038" stroke-width="1.1" stroke-linecap="butt"/>
<line x1="253.50" y1="400.50" x2="259.50" y2="400.50" stroke="#b51038" stroke-width="1.2" stroke-linecap="butt"/>
<line x1="253.50" y1="412.50" x2="259.50" y2="412.50" stroke="#b51038" stroke-width="1.2" stroke-linecap="butt"/>
<line x1="298.50" y1="397.00" x2="298.50" y2="410.50" stroke="#b51038" stroke-width="1.1" stroke-linecap="butt"/>
<line x1="295.50" y1="397.50" x2="301.50" y2="397.50" stroke="#b51038" stroke-width="1.2" stroke-linecap="butt"/>
<line x1="295.50" y1="410.50" x2="301.50" y2="410.50" stroke="#b51038" stroke-width="1.2" stroke-linecap="butt"/>
<rect x="233.30" y="380.30" width="6.40" height="6.40" fill="#b51038"/>
<rect x="253.10" y="402.80" width="6.40" height="6.40" fill="#b51038"/>
<rect x="295.60" y="400.20" width="6.40" height="6.40" fill="#b51038"/>
<line x1="238.50" y1="376.50" x2="257.25" y2="376.50" stroke="#2a2a2a" stroke-width="1.1" stroke-linecap="butt"/>
<line x1="238.50" y1="374.60" x2="238.50" y2="378.00" stroke="#2a2a2a" stroke-width="1.1" stroke-linecap="butt"/>
<line x1="257.50" y1="374.60" x2="257.50" y2="378.00" stroke="#2a2a2a" stroke-width="1.1" stroke-linecap="butt"/>
<text x="247.60" y="374.60" font-size="8.4" text-anchor="middle" font-style="italic" fill="#2a2a2a" stroke="#2a2a2a" stroke-width="0.2" textLength="14.25" lengthAdjust="spacingAndGlyphs">0.02</text>
<text x="335.80" y="355.60" font-size="11.6" text-anchor="start" font-weight="bold" fill="#0d0d0d">K</text>
<text x="424.75" y="363.00" font-size="9.8" text-anchor="middle" fill="#262626" stroke="#262626" stroke-width="0.2" textLength="45.50" lengthAdjust="spacingAndGlyphs">EXPER_CB</text>
<line x1="379.50" y1="377.50" x2="379.50" y2="469.60" stroke="#262626" stroke-width="1.2" stroke-linecap="butt"/>
<line x1="376.50" y1="468.50" x2="379.50" y2="468.50" stroke="#262626" stroke-width="1.2" stroke-linecap="butt"/>
<line x1="376.50" y1="451.50" x2="379.50" y2="451.50" stroke="#262626" stroke-width="1.2" stroke-linecap="butt"/>
<line x1="376.50" y1="433.50" x2="379.50" y2="433.50" stroke="#262626" stroke-width="1.2" stroke-linecap="butt"/>
<line x1="376.50" y1="415.50" x2="379.50" y2="415.50" stroke="#262626" stroke-width="1.2" stroke-linecap="butt"/>
<line x1="376.50" y1="398.50" x2="379.50" y2="398.50" stroke="#262626" stroke-width="1.2" stroke-linecap="butt"/>
<line x1="376.50" y1="380.50" x2="379.50" y2="380.50" stroke="#262626" stroke-width="1.2" stroke-linecap="butt"/>
<text x="374.50" y="471.95" font-size="9.0" text-anchor="end" fill="#2a2a2a" stroke="#2a2a2a" stroke-width="0.2" textLength="4.30" lengthAdjust="spacingAndGlyphs">0</text>
<text x="374.50" y="454.30" font-size="9.0" text-anchor="end" fill="#2a2a2a" stroke="#2a2a2a" stroke-width="0.2" textLength="8.61" lengthAdjust="spacingAndGlyphs">20</text>
<text x="374.50" y="436.65" font-size="9.0" text-anchor="end" fill="#2a2a2a" stroke="#2a2a2a" stroke-width="0.2" textLength="8.61" lengthAdjust="spacingAndGlyphs">40</text>
<text x="374.50" y="419.00" font-size="9.0" text-anchor="end" fill="#2a2a2a" stroke="#2a2a2a" stroke-width="0.2" textLength="8.61" lengthAdjust="spacingAndGlyphs">60</text>
<text x="374.50" y="401.35" font-size="9.0" text-anchor="end" fill="#2a2a2a" stroke="#2a2a2a" stroke-width="0.2" textLength="8.61" lengthAdjust="spacingAndGlyphs">80</text>
<text x="374.50" y="383.70" font-size="9.0" text-anchor="end" fill="#2a2a2a" stroke="#2a2a2a" stroke-width="0.2" textLength="12.91" lengthAdjust="spacingAndGlyphs">100</text>
<line x1="379.50" y1="469.50" x2="470.00" y2="469.50" stroke="#262626" stroke-width="1.2" stroke-linecap="butt"/>
<line x1="379.50" y1="469.00" x2="379.50" y2="472.00" stroke="#262626" stroke-width="1.2" stroke-linecap="butt"/>
<line x1="401.50" y1="469.00" x2="401.50" y2="472.00" stroke="#262626" stroke-width="1.2" stroke-linecap="butt"/>
<line x1="423.50" y1="469.00" x2="423.50" y2="472.00" stroke="#262626" stroke-width="1.2" stroke-linecap="butt"/>
<line x1="445.50" y1="469.00" x2="445.50" y2="472.00" stroke="#262626" stroke-width="1.2" stroke-linecap="butt"/>
<line x1="467.50" y1="469.00" x2="467.50" y2="472.00" stroke="#262626" stroke-width="1.2" stroke-linecap="butt"/>
<text x="379.50" y="482.20" font-size="9.0" text-anchor="middle" fill="#2a2a2a" stroke="#2a2a2a" stroke-width="0.2" textLength="4.30" lengthAdjust="spacingAndGlyphs">0</text>
<text x="401.38" y="482.20" font-size="9.0" text-anchor="middle" fill="#2a2a2a" stroke="#2a2a2a" stroke-width="0.2" textLength="8.61" lengthAdjust="spacingAndGlyphs">20</text>
<text x="423.26" y="482.20" font-size="9.0" text-anchor="middle" fill="#2a2a2a" stroke="#2a2a2a" stroke-width="0.2" textLength="8.61" lengthAdjust="spacingAndGlyphs">40</text>
<text x="445.14" y="482.20" font-size="9.0" text-anchor="middle" fill="#2a2a2a" stroke="#2a2a2a" stroke-width="0.2" textLength="8.61" lengthAdjust="spacingAndGlyphs">60</text>
<text x="467.02" y="482.20" font-size="9.0" text-anchor="middle" fill="#2a2a2a" stroke="#2a2a2a" stroke-width="0.2" textLength="8.61" lengthAdjust="spacingAndGlyphs">80</text>
<text x="425.40" y="494.60" font-size="9.4" text-anchor="middle" fill="#2a2a2a" stroke="#2a2a2a" stroke-width="0.2" textLength="53.70" lengthAdjust="spacingAndGlyphs">Hours of culture</text>
<text x="343.40" y="423.50" font-size="8.8" text-anchor="middle" fill="#2a2a2a" stroke="#2a2a2a" stroke-width="0.2" textLength="21.80" lengthAdjust="spacingAndGlyphs" transform="rotate(-90 343.40 423.50)">Viable</text>
<text x="354.10" y="423.10" font-size="8.8" text-anchor="middle" fill="#2a2a2a" stroke="#2a2a2a" stroke-width="0.2" textLength="74.40" lengthAdjust="spacingAndGlyphs" transform="rotate(-90 354.10 423.10)">(% annexin-V<tspan font-size="5.5" dy="-3">-</tspan><tspan dy="3">/7-AAD</tspan><tspan font-size="5.5" dy="-3">-</tspan><tspan dy="3">)</tspan></text>
<polyline points="379.50,380.50 386.25,387.50 406.25,396.25 458.75,394.00" fill="none" stroke="#1b3f68" stroke-width="2.0" stroke-linejoin="round" stroke-dasharray="4.2,2.6"/>
<line x1="406.50" y1="393.00" x2="406.50" y2="398.75" stroke="#1b3f68" stroke-width="1.1" stroke-linecap="butt"/>
<line x1="403.25" y1="393.50" x2="409.25" y2="393.50" stroke="#1b3f68" stroke-width="1.2" stroke-linecap="butt"/>
<line x1="403.25" y1="398.50" x2="409.25" y2="398.50" stroke="#1b3f68" stroke-width="1.2" stroke-linecap="butt"/>
<line x1="458.50" y1="387.00" x2="458.50" y2="401.25" stroke="#1b3f68" stroke-width="1.1" stroke-linecap="butt"/>
<line x1="455.75" y1="387.50" x2="461.75" y2="387.50" stroke="#1b3f68" stroke-width="1.2" stroke-linecap="butt"/>
<line x1="455.75" y1="401.50" x2="461.75" y2="401.50" stroke="#1b3f68" stroke-width="1.2" stroke-linecap="butt"/>
<rect x="376.50" y="377.50" width="6.00" height="6.00" fill="#1b3f68"/>
<rect x="383.25" y="384.50" width="6.00" height="6.00" fill="#1b3f68"/>
<rect x="403.05" y="393.05" width="6.40" height="6.40" fill="#1b3f68"/>
<rect x="455.55" y="390.80" width="6.40" height="6.40" fill="#1b3f68"/>
<rect x="0.5" y="0.5" width="519" height="503" fill="none" stroke="#5e5e5e" stroke-width="1.2"/>
</svg></body></html>
